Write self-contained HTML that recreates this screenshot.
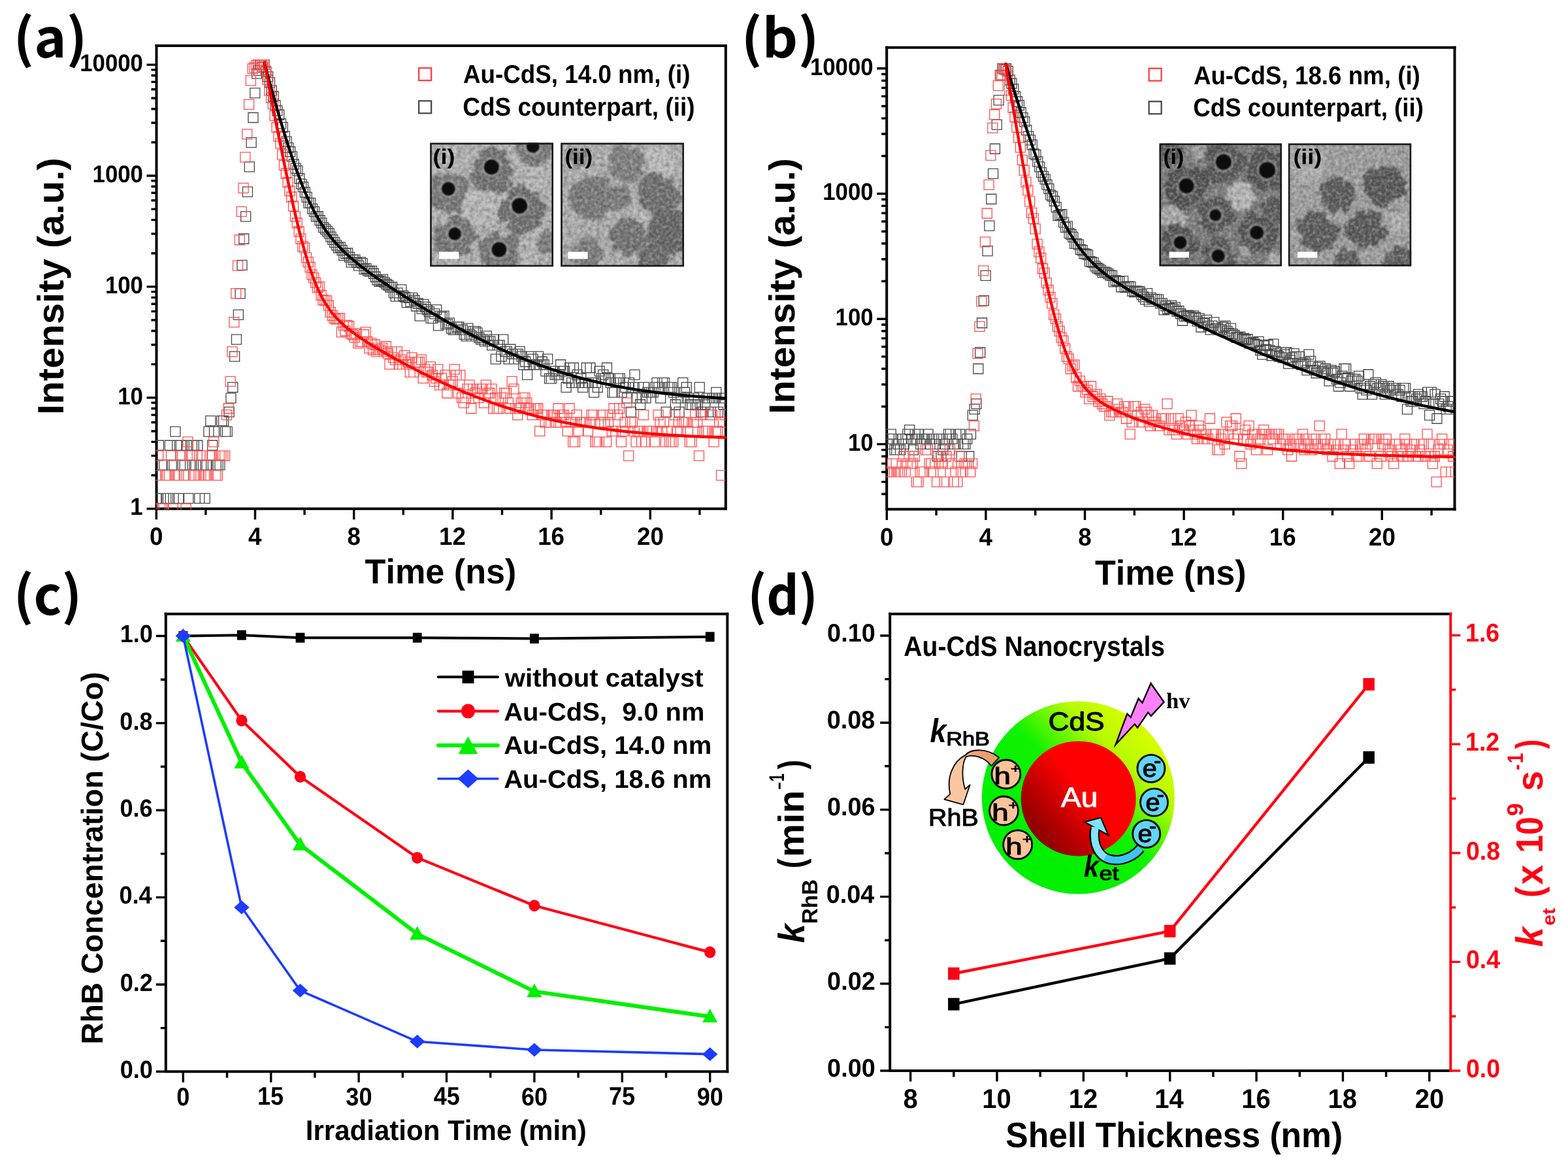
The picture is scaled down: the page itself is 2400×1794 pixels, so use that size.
<!DOCTYPE html>
<html><head><meta charset="utf-8"><title>Au-CdS figure</title>
<style>html,body{margin:0;padding:0;background:#fff;}svg{display:block;}#fig{width:2400px;height:1794px;}text{font-kerning:none;text-rendering:geometricPrecision;}</style></head><body>
<div id="fig"><svg width="2400" height="1794" viewBox="0 0 2400 1794">
<defs><clipPath id="clip139987752855296"><rect x="238.5" y="70" width="872.3" height="709.7"/></clipPath><clipPath id="clip139987901784384"><rect x="1356.2" y="72.7" width="870.3" height="707.9"/></clipPath><filter id="tex" x="0" y="0" width="1" height="1" filterUnits="objectBoundingBox"><feTurbulence type="fractalNoise" baseFrequency="0.16" numOctaves="2" seed="3" result="n"/><feColorMatrix in="n" type="matrix" values="0 0 0 0 0  0 0 0 0 0  0 0 0 0 0  1.4 0 0 0 -0.45" result="a"/><feComposite in="SourceGraphic" in2="a" operator="in"/></filter><filter id="texw" x="0" y="0" width="1" height="1" filterUnits="objectBoundingBox"><feTurbulence type="fractalNoise" baseFrequency="0.2" numOctaves="2" seed="11" result="n"/><feColorMatrix in="n" type="matrix" values="0 0 0 0 0  0 0 0 0 0  0 0 0 0 0  0 1.6 0 0 -0.62" result="a"/><feComposite in="SourceGraphic" in2="a" operator="in"/></filter><filter id="rough" x="-30%" y="-30%" width="160%" height="160%"><feTurbulence type="fractalNoise" baseFrequency="0.09" numOctaves="2" seed="5" result="n"/><feDisplacementMap in="SourceGraphic" in2="n" scale="16" xChannelSelector="R" yChannelSelector="G" result="d"/><feGaussianBlur in="d" stdDeviation="1.6"/></filter><filter id="soft" x="-30%" y="-30%" width="160%" height="160%"><feGaussianBlur stdDeviation="1.1"/></filter><filter id="soft3" x="-50%" y="-50%" width="200%" height="200%"><feGaussianBlur stdDeviation="3"/></filter><clipPath id="ia1"><rect x="658.2" y="218.6" width="188.8" height="189.6"/></clipPath><clipPath id="ia2"><rect x="858.2" y="218.6" width="188.8" height="189.6"/></clipPath><clipPath id="ib1"><rect x="1774.5" y="219.5" width="187.5" height="188"/></clipPath><clipPath id="ib2"><rect x="1971.8" y="219.5" width="188.4" height="188"/></clipPath><linearGradient id="gCdS" x1="0.25" y1="0.75" x2="0.9" y2="0.1"><stop offset="0" stop-color="#00f000"/><stop offset="0.42" stop-color="#10f200"/><stop offset="0.72" stop-color="#b8fa00"/><stop offset="1" stop-color="#e4ff00"/></linearGradient><linearGradient id="gAu" x1="0.9" y1="0.15" x2="0.05" y2="0.85"><stop offset="0" stop-color="#ff0000"/><stop offset="0.42" stop-color="#ff0000"/><stop offset="0.75" stop-color="#b00000"/><stop offset="1" stop-color="#800000"/></linearGradient><linearGradient id="gOr" x1="1" y1="0" x2="0" y2="0.6"><stop offset="0" stop-color="#e89a66"/><stop offset="0.45" stop-color="#eca67a"/><stop offset="0.6" stop-color="#f8c49e"/><stop offset="1" stop-color="#f9c7a2"/></linearGradient></defs>
<rect width="2400" height="1794" fill="#fff"/>
<g>
<path d="M239.5 70V778.7H1110.8" fill="none" stroke="#000" stroke-width="4" stroke-linecap="square"/>
<path d="M239.5 70H1110.8" fill="none" stroke="#000" stroke-width="4" stroke-linecap="square"/>
<path d="M1110.8 70V778.7" fill="none" stroke="#000" stroke-width="4" stroke-linecap="square"/>
<path d="M239.3 778.7V795.2M390.5 778.7V795.2M541.7 778.7V795.2M692.9 778.7V795.2M844.1 778.7V795.2M995.3 778.7V795.2M314.9 778.7V788.2M466.1 778.7V788.2M617.3 778.7V788.2M768.5 778.7V788.2M919.7 778.7V788.2M1070.9 778.7V788.2" stroke="#000" stroke-width="3.4"/>
<text transform="translate(229.1 834.44) scale(0.9600 1)" font-size="38.3" font-family="'Liberation Sans', Arial, sans-serif" font-weight="bold" fill="#000">0</text>
<text transform="translate(380.1 834.05) scale(0.9600 1)" font-size="38.3" font-family="'Liberation Sans', Arial, sans-serif" font-weight="bold" fill="#000">4</text>
<text transform="translate(531.46 834.44) scale(0.9600 1)" font-size="38.3" font-family="'Liberation Sans', Arial, sans-serif" font-weight="bold" fill="#000">8</text>
<text transform="translate(672.03 834.44) scale(0.9600 1)" font-size="38.3" font-family="'Liberation Sans', Arial, sans-serif" font-weight="bold" fill="#000">12</text>
<text transform="translate(823.16 834.44) scale(0.9600 1)" font-size="38.3" font-family="'Liberation Sans', Arial, sans-serif" font-weight="bold" fill="#000">16</text>
<text transform="translate(974.97 834.44) scale(0.9600 1)" font-size="38.3" font-family="'Liberation Sans', Arial, sans-serif" font-weight="bold" fill="#000">20</text>
<path d="M239.5 778.7H224.5M239.5 608.8H224.5M239.5 438.9H224.5M239.5 269H224.5M239.5 99.1H224.5M239.5 727.56H231.5M239.5 697.64H231.5M239.5 676.41H231.5M239.5 659.94H231.5M239.5 646.49H231.5M239.5 635.12H231.5M239.5 625.27H231.5M239.5 616.57H231.5M239.5 557.66H231.5M239.5 527.74H231.5M239.5 506.51H231.5M239.5 490.04H231.5M239.5 476.59H231.5M239.5 465.22H231.5M239.5 455.37H231.5M239.5 446.67H231.5M239.5 387.76H231.5M239.5 357.84H231.5M239.5 336.61H231.5M239.5 320.14H231.5M239.5 306.69H231.5M239.5 295.32H231.5M239.5 285.47H231.5M239.5 276.77H231.5M239.5 217.86H231.5M239.5 187.94H231.5M239.5 166.71H231.5M239.5 150.24H231.5M239.5 136.79H231.5M239.5 125.42H231.5M239.5 115.57H231.5M239.5 106.87H231.5" stroke="#000" stroke-width="3.4"/>
<text transform="translate(199.13 788.43) scale(0.9400 1)" font-size="37" font-family="'Liberation Sans', Arial, sans-serif" font-weight="bold" fill="#000">1</text>
<text transform="translate(180.24 618.54) scale(0.9400 1)" font-size="37" font-family="'Liberation Sans', Arial, sans-serif" font-weight="bold" fill="#000">10</text>
<text transform="translate(160.9 448.64) scale(0.9400 1)" font-size="37" font-family="'Liberation Sans', Arial, sans-serif" font-weight="bold" fill="#000">100</text>
<text transform="translate(141.55 278.74) scale(0.9400 1)" font-size="37" font-family="'Liberation Sans', Arial, sans-serif" font-weight="bold" fill="#000">1000</text>
<text transform="translate(122.21 108.84) scale(0.9400 1)" font-size="37" font-family="'Liberation Sans', Arial, sans-serif" font-weight="bold" fill="#000">10000</text>
<path d="M1357.2 72.7V779.6H2226.5" fill="none" stroke="#000" stroke-width="4" stroke-linecap="square"/>
<path d="M1357.2 72.7H2226.5" fill="none" stroke="#000" stroke-width="4" stroke-linecap="square"/>
<path d="M2226.5 72.7V779.6" fill="none" stroke="#000" stroke-width="4" stroke-linecap="square"/>
<path d="M1357.3 779.6V796.1M1508.9 779.6V796.1M1660.5 779.6V796.1M1812.1 779.6V796.1M1963.7 779.6V796.1M2115.3 779.6V796.1M1433.1 779.6V789.1M1584.7 779.6V789.1M1736.3 779.6V789.1M1887.9 779.6V789.1M2039.5 779.6V789.1M2191.1 779.6V789.1" stroke="#000" stroke-width="3.4"/>
<text transform="translate(1347.1 835.34) scale(0.9600 1)" font-size="38.3" font-family="'Liberation Sans', Arial, sans-serif" font-weight="bold" fill="#000">0</text>
<text transform="translate(1498.5 834.95) scale(0.9600 1)" font-size="38.3" font-family="'Liberation Sans', Arial, sans-serif" font-weight="bold" fill="#000">4</text>
<text transform="translate(1650.26 835.34) scale(0.9600 1)" font-size="38.3" font-family="'Liberation Sans', Arial, sans-serif" font-weight="bold" fill="#000">8</text>
<text transform="translate(1791.23 835.34) scale(0.9600 1)" font-size="38.3" font-family="'Liberation Sans', Arial, sans-serif" font-weight="bold" fill="#000">12</text>
<text transform="translate(1942.76 835.34) scale(0.9600 1)" font-size="38.3" font-family="'Liberation Sans', Arial, sans-serif" font-weight="bold" fill="#000">16</text>
<text transform="translate(2094.97 835.34) scale(0.9600 1)" font-size="38.3" font-family="'Liberation Sans', Arial, sans-serif" font-weight="bold" fill="#000">20</text>
<path d="M1357.2 679.9H1342.2M1357.2 488.2H1342.2M1357.2 296.5H1342.2M1357.2 104.8H1342.2M1357.2 756.19H1349.2M1357.2 737.61H1349.2M1357.2 722.43H1349.2M1357.2 709.59H1349.2M1357.2 698.48H1349.2M1357.2 688.67H1349.2M1357.2 622.19H1349.2M1357.2 588.44H1349.2M1357.2 564.49H1349.2M1357.2 545.91H1349.2M1357.2 530.73H1349.2M1357.2 517.89H1349.2M1357.2 506.78H1349.2M1357.2 496.97H1349.2M1357.2 430.49H1349.2M1357.2 396.74H1349.2M1357.2 372.79H1349.2M1357.2 354.21H1349.2M1357.2 339.03H1349.2M1357.2 326.19H1349.2M1357.2 315.08H1349.2M1357.2 305.27H1349.2M1357.2 238.79H1349.2M1357.2 205.04H1349.2M1357.2 181.09H1349.2M1357.2 162.51H1349.2M1357.2 147.33H1349.2M1357.2 134.49H1349.2M1357.2 123.38H1349.2M1357.2 113.57H1349.2" stroke="#000" stroke-width="3.4"/>
<text transform="translate(1297.94 689.64) scale(0.9400 1)" font-size="37" font-family="'Liberation Sans', Arial, sans-serif" font-weight="bold" fill="#000">10</text>
<text transform="translate(1278.6 497.94) scale(0.9400 1)" font-size="37" font-family="'Liberation Sans', Arial, sans-serif" font-weight="bold" fill="#000">100</text>
<text transform="translate(1259.25 306.24) scale(0.9400 1)" font-size="37" font-family="'Liberation Sans', Arial, sans-serif" font-weight="bold" fill="#000">1000</text>
<text transform="translate(1239.91 114.54) scale(0.9400 1)" font-size="37" font-family="'Liberation Sans', Arial, sans-serif" font-weight="bold" fill="#000">10000</text>
<text transform="translate(558.61 893.28) scale(0.9820 1)" font-size="53.1" font-family="'Liberation Sans', Arial, sans-serif" font-weight="bold" fill="#000">Time (ns)</text>
<text transform="translate(1676.01 894.69) scale(0.9732 1)" font-size="53.53" font-family="'Liberation Sans', Arial, sans-serif" font-weight="bold" fill="#000">Time (ns)</text>
<text transform="translate(97.43 634.88) rotate(-90) scale(1.0326 1)" font-size="56.22" font-family="'Liberation Sans', Arial, sans-serif" font-weight="bold" fill="#000">Intensity (a.u.)</text>
<text transform="translate(1215.71 633.67) rotate(-90) scale(1.0437 1)" font-size="55.36" font-family="'Liberation Sans', Arial, sans-serif" font-weight="bold" fill="#000">Intensity (a.u.)</text>
<path d="M253.8 939.7V1640.3H1113.3" fill="none" stroke="#000" stroke-width="4" stroke-linecap="square"/>
<path d="M253.8 939.7H1113.3" fill="none" stroke="#000" stroke-width="4" stroke-linecap="square"/>
<path d="M1113.3 939.7V1640.3" fill="none" stroke="#000" stroke-width="4" stroke-linecap="square"/>
<path d="M280.3 1640.3V1656.8M414.7 1640.3V1656.8M549.1 1640.3V1656.8M683.5 1640.3V1656.8M817.9 1640.3V1656.8M952.3 1640.3V1656.8M1086.7 1640.3V1656.8M347.5 1640.3V1649.8M481.9 1640.3V1649.8M616.3 1640.3V1649.8M750.7 1640.3V1649.8M885.1 1640.3V1649.8M1019.5 1640.3V1649.8" stroke="#000" stroke-width="3.4"/>
<text transform="translate(270.29 1691.89) scale(0.9300 1)" font-size="38.8" font-family="'Liberation Sans', Arial, sans-serif" font-weight="bold" fill="#000">0</text>
<text transform="translate(394 1691.49) scale(0.9300 1)" font-size="38.8" font-family="'Liberation Sans', Arial, sans-serif" font-weight="bold" fill="#000">15</text>
<text transform="translate(529.36 1691.89) scale(0.9300 1)" font-size="38.8" font-family="'Liberation Sans', Arial, sans-serif" font-weight="bold" fill="#000">30</text>
<text transform="translate(663.66 1691.49) scale(0.9300 1)" font-size="38.8" font-family="'Liberation Sans', Arial, sans-serif" font-weight="bold" fill="#000">45</text>
<text transform="translate(797.91 1691.89) scale(0.9300 1)" font-size="38.8" font-family="'Liberation Sans', Arial, sans-serif" font-weight="bold" fill="#000">60</text>
<text transform="translate(931.96 1691.49) scale(0.9300 1)" font-size="38.8" font-family="'Liberation Sans', Arial, sans-serif" font-weight="bold" fill="#000">75</text>
<text transform="translate(1066.75 1691.89) scale(0.9300 1)" font-size="38.8" font-family="'Liberation Sans', Arial, sans-serif" font-weight="bold" fill="#000">90</text>
<path d="M253.8 1640.3H238.8M253.8 1506.94H238.8M253.8 1373.58H238.8M253.8 1240.22H238.8M253.8 1106.86H238.8M253.8 973.5H238.8M253.8 1573.62H245.8M253.8 1440.26H245.8M253.8 1306.9H245.8M253.8 1173.54H245.8M253.8 1040.18H245.8" stroke="#000" stroke-width="3.4"/>
<text transform="translate(183.7 1650.01) scale(0.9550 1)" font-size="37.8" font-family="'Liberation Sans', Arial, sans-serif" font-weight="bold" fill="#000">0.0</text>
<text transform="translate(183.66 1516.65) scale(0.9550 1)" font-size="37.8" font-family="'Liberation Sans', Arial, sans-serif" font-weight="bold" fill="#000">0.2</text>
<text transform="translate(182.41 1383.29) scale(0.9550 1)" font-size="37.8" font-family="'Liberation Sans', Arial, sans-serif" font-weight="bold" fill="#000">0.4</text>
<text transform="translate(183.52 1249.93) scale(0.9550 1)" font-size="37.8" font-family="'Liberation Sans', Arial, sans-serif" font-weight="bold" fill="#000">0.6</text>
<text transform="translate(183.33 1116.57) scale(0.9550 1)" font-size="37.8" font-family="'Liberation Sans', Arial, sans-serif" font-weight="bold" fill="#000">0.8</text>
<text transform="translate(183.7 983.21) scale(0.9550 1)" font-size="37.8" font-family="'Liberation Sans', Arial, sans-serif" font-weight="bold" fill="#000">1.0</text>
<text transform="translate(467.79 1744.51) scale(0.9707 1)" font-size="43.34" font-family="'Liberation Sans', Arial, sans-serif" font-weight="bold" fill="#000">Irradiation Time (min)</text>
<text transform="translate(156.58 1598.48) rotate(-90) scale(0.9930 1)" font-size="46.35" font-family="'Liberation Sans', Arial, sans-serif" font-weight="bold" fill="#000">RhB Concentration (C/Co)</text>
<path d="M1362.2 939.7V1639H2220.3" fill="none" stroke="#000" stroke-width="4" stroke-linecap="square"/>
<path d="M1362.2 939.7H2220.3" fill="none" stroke="#000" stroke-width="4" stroke-linecap="square"/>
<path d="M2220.3 939.7V1639" fill="none" stroke="#ff0014" stroke-width="4" stroke-linecap="square"/>
<path d="M1393.64 1639V1655.5M1526 1639V1655.5M1658.36 1639V1655.5M1790.72 1639V1655.5M1923.08 1639V1655.5M2055.44 1639V1655.5M2187.8 1639V1655.5M1459.82 1639V1648.5M1592.18 1639V1648.5M1724.54 1639V1648.5M1856.9 1639V1648.5M1989.26 1639V1648.5M2121.62 1639V1648.5" stroke="#000" stroke-width="3.4"/>
<text transform="translate(1382.48 1696.18) scale(0.9650 1)" font-size="41.5" font-family="'Liberation Sans', Arial, sans-serif" font-weight="bold" fill="#000">8</text>
<text transform="translate(1503.29 1696.18) scale(0.9650 1)" font-size="41.5" font-family="'Liberation Sans', Arial, sans-serif" font-weight="bold" fill="#000">10</text>
<text transform="translate(1635.63 1696.18) scale(0.9650 1)" font-size="41.5" font-family="'Liberation Sans', Arial, sans-serif" font-weight="bold" fill="#000">12</text>
<text transform="translate(1767.29 1695.75) scale(0.9650 1)" font-size="41.5" font-family="'Liberation Sans', Arial, sans-serif" font-weight="bold" fill="#000">14</text>
<text transform="translate(1900.27 1696.18) scale(0.9650 1)" font-size="41.5" font-family="'Liberation Sans', Arial, sans-serif" font-weight="bold" fill="#000">16</text>
<text transform="translate(2032.52 1696.18) scale(0.9650 1)" font-size="41.5" font-family="'Liberation Sans', Arial, sans-serif" font-weight="bold" fill="#000">18</text>
<text transform="translate(2165.65 1696.18) scale(0.9650 1)" font-size="41.5" font-family="'Liberation Sans', Arial, sans-serif" font-weight="bold" fill="#000">20</text>
<path d="M1362.2 1639H1347.2M1362.2 1505.8H1347.2M1362.2 1372.6H1347.2M1362.2 1239.4H1347.2M1362.2 1106.2H1347.2M1362.2 973H1347.2M1362.2 1572.4H1354.2M1362.2 1439.2H1354.2M1362.2 1306H1354.2M1362.2 1172.8H1354.2M1362.2 1039.6H1354.2" stroke="#000" stroke-width="3.4"/>
<text transform="translate(1266.12 1648.06) scale(0.9750 1)" font-size="38.8" font-family="'Liberation Sans', Arial, sans-serif" font-weight="bold" fill="#000">0.00</text>
<text transform="translate(1266.09 1514.86) scale(0.9750 1)" font-size="38.8" font-family="'Liberation Sans', Arial, sans-serif" font-weight="bold" fill="#000">0.02</text>
<text transform="translate(1264.78 1381.66) scale(0.9750 1)" font-size="38.8" font-family="'Liberation Sans', Arial, sans-serif" font-weight="bold" fill="#000">0.04</text>
<text transform="translate(1265.94 1248.46) scale(0.9750 1)" font-size="38.8" font-family="'Liberation Sans', Arial, sans-serif" font-weight="bold" fill="#000">0.06</text>
<text transform="translate(1265.74 1115.26) scale(0.9750 1)" font-size="38.8" font-family="'Liberation Sans', Arial, sans-serif" font-weight="bold" fill="#000">0.08</text>
<text transform="translate(1266.12 982.06) scale(0.9750 1)" font-size="38.8" font-family="'Liberation Sans', Arial, sans-serif" font-weight="bold" fill="#000">0.10</text>
<path d="M2220.3 1639H2235.3M2220.3 1472.36H2235.3M2220.3 1305.72H2235.3M2220.3 1139.08H2235.3M2220.3 972.44H2235.3M2220.3 1555.68H2228.3M2220.3 1389.04H2228.3M2220.3 1222.4H2228.3M2220.3 1055.76H2228.3" stroke="#ff0014" stroke-width="3.4"/>
<text transform="translate(2243.92 1649) scale(0.9500 1)" font-size="39.5" font-family="'Liberation Sans', Arial, sans-serif" font-weight="bold" fill="#ff0014">0.0</text>
<text transform="translate(2243.92 1482.36) scale(0.9500 1)" font-size="39.5" font-family="'Liberation Sans', Arial, sans-serif" font-weight="bold" fill="#ff0014">0.4</text>
<text transform="translate(2243.92 1315.72) scale(0.9500 1)" font-size="39.5" font-family="'Liberation Sans', Arial, sans-serif" font-weight="bold" fill="#ff0014">0.8</text>
<text transform="translate(2243.04 1149.27) scale(0.9500 1)" font-size="39.5" font-family="'Liberation Sans', Arial, sans-serif" font-weight="bold" fill="#ff0014">1.2</text>
<text transform="translate(2243.04 982.44) scale(0.9500 1)" font-size="39.5" font-family="'Liberation Sans', Arial, sans-serif" font-weight="bold" fill="#ff0014">1.6</text>
<text transform="translate(1539.31 1755.68) scale(0.9538 1)" font-size="54.07" font-family="'Liberation Sans', Arial, sans-serif" font-weight="bold" fill="#000">Shell Thickness (nm)</text>
<text transform="translate(20.58 87.79) scale(1.0249 1)" font-size="81.74" font-family="'Noto Sans CJK JP', 'Liberation Sans', sans-serif" font-weight="bold" fill="#000">(a)</text>
<text transform="translate(1134.47 87.79) scale(1.0404 1)" font-size="81.74" font-family="'Noto Sans CJK JP', 'Liberation Sans', sans-serif" font-weight="bold" fill="#000">(b)</text>
<text transform="translate(20.78 941.39) scale(1.0018 1)" font-size="81.26" font-family="'Noto Sans CJK JP', 'Liberation Sans', sans-serif" font-weight="bold" fill="#000">(c)</text>
<text transform="translate(1144.16 941.39) scale(0.9465 1)" font-size="81.26" font-family="'Noto Sans CJK JP', 'Liberation Sans', sans-serif" font-weight="bold" fill="#000">(d)</text>
<g clip-path="url(#clip139987752855296)"><path d="M232.56 755.33h15v15h-15zM235.39 674.26h15v15h-15zM238.23 755.33h15v15h-15zM241.06 704.18h15v15h-15zM243.9 704.18h15v15h-15zM246.73 755.33h15v15h-15zM249.57 755.33h15v15h-15zM252.4 674.26h15v15h-15zM255.24 704.18h15v15h-15zM258.07 755.33h15v15h-15zM260.91 653.04h15v15h-15zM263.74 674.26h15v15h-15zM266.58 755.33h15v15h-15zM269.41 674.26h15v15h-15zM272.25 704.18h15v15h-15zM275.08 704.18h15v15h-15zM277.92 674.26h15v15h-15zM280.75 755.33h15v15h-15zM283.59 704.18h15v15h-15zM286.42 674.26h15v15h-15zM289.26 674.26h15v15h-15zM292.09 704.18h15v15h-15zM294.93 674.26h15v15h-15zM297.76 755.33h15v15h-15zM300.6 704.18h15v15h-15zM303.43 704.18h15v15h-15zM306.27 755.33h15v15h-15zM309.1 704.18h15v15h-15zM311.94 653.04h15v15h-15zM314.77 636.57h15v15h-15zM317.61 674.26h15v15h-15zM320.44 653.04h15v15h-15zM323.28 704.18h15v15h-15zM326.11 704.18h15v15h-15zM328.95 704.18h15v15h-15zM331.78 636.57h15v15h-15zM334.62 636.57h15v15h-15zM337.45 653.04h15v15h-15zM340.29 653.04h15v15h-15zM343.12 623.12h15v15h-15zM345.96 601.89h15v15h-15zM348.79 585.43h15v15h-15zM351.63 538.07h15v15h-15zM354.46 512.14h15v15h-15zM357.3 474.45h15v15h-15zM360.13 441.85h15v15h-15zM362.97 398.47h15v15h-15zM365.8 358.02h15v15h-15zM368.64 323.78h15v15h-15zM371.47 286.2h15v15h-15zM374.31 247.85h15v15h-15zM377.14 210.63h15v15h-15zM379.98 172.52h15v15h-15zM382.81 134.95h15v15h-15zM385.65 105.11h15v15h-15zM388.48 100.28h15v15h-15zM391.32 91.6h15v15h-15zM394.15 95.24h15v15h-15zM396.99 91.6h15v15h-15zM399.82 102.22h15v15h-15zM402.66 109.87h15v15h-15zM405.49 118.93h15v15h-15zM408.33 131.07h15v15h-15zM411.16 140h15v15h-15zM414 153.9h15v15h-15zM416.83 161.95h15v15h-15zM419.67 168.24h15v15h-15zM422.5 181.94h15v15h-15zM425.34 187.34h15v15h-15zM428.17 201.18h15v15h-15zM431.01 209.18h15v15h-15zM433.84 218.53h15v15h-15zM436.68 224.76h15v15h-15zM439.51 232.12h15v15h-15zM442.35 243.98h15v15h-15zM445.18 250.05h15v15h-15zM448.02 253.97h15v15h-15zM450.85 265.76h15v15h-15zM453.69 274.21h15v15h-15zM456.52 278.59h15v15h-15zM459.36 286.74h15v15h-15zM462.19 294.36h15v15h-15zM465.03 303.15h15v15h-15zM467.86 303.28h15v15h-15zM470.7 312.1h15v15h-15zM473.53 316.33h15v15h-15zM476.37 323.97h15v15h-15zM479.2 323.77h15v15h-15zM482.04 329.74h15v15h-15zM484.87 333.97h15v15h-15zM487.71 340.62h15v15h-15zM490.54 343.34h15v15h-15zM493.38 346.46h15v15h-15zM496.21 349.71h15v15h-15zM499.05 355.04h15v15h-15zM501.88 359.39h15v15h-15zM504.72 363.65h15v15h-15zM507.55 367.78h15v15h-15zM510.39 371.75h15v15h-15zM513.22 370.94h15v15h-15zM516.06 375.51h15v15h-15zM518.89 383.67h15v15h-15zM521.73 380.85h15v15h-15zM524.56 379.93h15v15h-15zM527.4 386.1h15v15h-15zM530.23 393.93h15v15h-15zM533.07 390.7h15v15h-15zM535.9 390.18h15v15h-15zM538.74 394.49h15v15h-15zM541.57 399.06h15v15h-15zM544.41 393.93h15v15h-15zM547.24 395.6h15v15h-15zM550.08 404.58h15v15h-15zM552.91 403.31h15v15h-15zM555.75 407.17h15v15h-15zM558.58 407.83h15v15h-15zM561.42 407.17h15v15h-15zM564.25 411.23h15v15h-15zM567.09 416.27h15v15h-15zM569.92 420.88h15v15h-15zM572.76 423.3h15v15h-15zM575.59 422.49h15v15h-15zM578.43 420.09h15v15h-15zM581.26 424.96h15v15h-15zM584.1 427.52h15v15h-15zM586.93 429.28h15v15h-15zM589.77 431.99h15v15h-15zM592.6 431.99h15v15h-15zM595.44 440.8h15v15h-15zM598.27 446.19h15v15h-15zM601.11 440.8h15v15h-15zM603.94 446.19h15v15h-15zM606.78 435.78h15v15h-15zM609.61 445.08h15v15h-15zM612.45 447.31h15v15h-15zM615.28 455.72h15v15h-15zM618.12 448.46h15v15h-15zM620.95 454.46h15v15h-15zM623.79 448.46h15v15h-15zM626.62 452h15v15h-15zM629.46 460.99h15v15h-15zM632.29 457h15v15h-15zM635.13 476.11h15v15h-15zM637.96 465.21h15v15h-15zM640.8 458.31h15v15h-15zM643.63 462.37h15v15h-15zM646.47 466.67h15v15h-15zM649.3 469.68h15v15h-15zM652.14 479.54h15v15h-15zM654.97 479.54h15v15h-15zM657.81 472.83h15v15h-15zM660.64 466.67h15v15h-15zM663.48 490.91h15v15h-15zM666.31 476.11h15v15h-15zM669.15 477.8h15v15h-15zM671.98 476.11h15v15h-15zM674.82 488.89h15v15h-15zM677.65 488.89h15v15h-15zM680.49 486.92h15v15h-15zM683.32 495.13h15v15h-15zM686.16 497.33h15v15h-15zM688.99 497.33h15v15h-15zM691.83 492.99h15v15h-15zM694.66 492.99h15v15h-15zM697.5 497.33h15v15h-15zM700.33 497.33h15v15h-15zM703.17 504.36h15v15h-15zM706 506.87h15v15h-15zM708.84 495.13h15v15h-15zM711.67 504.36h15v15h-15zM714.51 506.87h15v15h-15zM717.34 499.6h15v15h-15zM720.18 499.6h15v15h-15zM723.01 501.95h15v15h-15zM725.85 509.46h15v15h-15zM728.68 512.14h15v15h-15zM731.52 512.14h15v15h-15zM734.35 514.92h15v15h-15zM737.19 506.87h15v15h-15zM740.02 514.92h15v15h-15zM742.86 514.92h15v15h-15zM745.69 520.83h15v15h-15zM748.53 512.14h15v15h-15zM751.36 542.06h15v15h-15zM754.2 520.83h15v15h-15zM757.03 520.83h15v15h-15zM759.87 538.07h15v15h-15zM762.7 512.14h15v15h-15zM765.54 530.68h15v15h-15zM768.37 530.68h15v15h-15zM771.21 542.06h15v15h-15zM774.04 527.25h15v15h-15zM776.88 534.28h15v15h-15zM779.71 542.06h15v15h-15zM782.55 534.28h15v15h-15zM785.38 534.28h15v15h-15zM788.22 530.68h15v15h-15zM791.05 538.07h15v15h-15zM793.89 550.75h15v15h-15zM796.72 546.27h15v15h-15zM799.56 566.07h15v15h-15zM802.39 550.75h15v15h-15zM805.23 538.07h15v15h-15zM808.06 542.06h15v15h-15zM810.9 550.75h15v15h-15zM813.73 550.75h15v15h-15zM816.57 538.07h15v15h-15zM819.4 550.75h15v15h-15zM822.24 546.27h15v15h-15zM825.07 550.75h15v15h-15zM827.91 560.6h15v15h-15zM830.74 542.06h15v15h-15zM833.58 571.97h15v15h-15zM836.41 571.97h15v15h-15zM839.25 560.6h15v15h-15zM842.08 566.07h15v15h-15zM844.92 566.07h15v15h-15zM847.75 566.07h15v15h-15zM850.59 550.75h15v15h-15zM853.42 560.6h15v15h-15zM856.26 560.6h15v15h-15zM859.09 585.43h15v15h-15zM861.93 571.97h15v15h-15zM864.76 555.51h15v15h-15zM867.6 578.4h15v15h-15zM870.43 555.51h15v15h-15zM873.27 578.4h15v15h-15zM876.1 566.07h15v15h-15zM878.94 578.4h15v15h-15zM881.77 571.97h15v15h-15zM884.61 585.43h15v15h-15zM887.44 578.4h15v15h-15zM890.28 555.51h15v15h-15zM893.11 578.4h15v15h-15zM895.95 555.51h15v15h-15zM898.78 578.4h15v15h-15zM901.62 593.2h15v15h-15zM904.45 578.4h15v15h-15zM907.29 585.43h15v15h-15zM910.12 560.6h15v15h-15zM912.96 571.97h15v15h-15zM915.79 566.07h15v15h-15zM918.63 571.97h15v15h-15zM921.46 555.51h15v15h-15zM924.3 571.97h15v15h-15zM927.13 578.4h15v15h-15zM929.97 593.2h15v15h-15zM932.8 593.2h15v15h-15zM935.64 578.4h15v15h-15zM938.47 571.97h15v15h-15zM941.31 571.97h15v15h-15zM944.14 593.2h15v15h-15zM946.98 578.4h15v15h-15zM949.81 585.43h15v15h-15zM952.65 601.89h15v15h-15zM955.48 578.4h15v15h-15zM958.32 623.12h15v15h-15zM961.15 585.43h15v15h-15zM963.99 566.07h15v15h-15zM966.82 601.89h15v15h-15zM969.66 585.43h15v15h-15zM972.49 611.75h15v15h-15zM975.33 601.89h15v15h-15zM978.16 585.43h15v15h-15zM981 601.89h15v15h-15zM983.83 593.2h15v15h-15zM986.67 593.2h15v15h-15zM989.5 593.2h15v15h-15zM992.34 593.2h15v15h-15zM995.17 585.43h15v15h-15zM998.01 578.4h15v15h-15zM1000.84 585.43h15v15h-15zM1003.68 601.89h15v15h-15zM1006.51 578.4h15v15h-15zM1009.35 578.4h15v15h-15zM1012.18 623.12h15v15h-15zM1015.02 585.43h15v15h-15zM1017.85 585.43h15v15h-15zM1020.69 585.43h15v15h-15zM1023.52 593.2h15v15h-15zM1026.36 611.75h15v15h-15zM1029.19 601.89h15v15h-15zM1032.03 623.12h15v15h-15zM1034.86 601.89h15v15h-15zM1037.7 578.4h15v15h-15zM1040.53 593.2h15v15h-15zM1043.37 585.43h15v15h-15zM1046.2 601.89h15v15h-15zM1049.04 611.75h15v15h-15zM1051.87 611.75h15v15h-15zM1054.71 601.89h15v15h-15zM1057.54 611.75h15v15h-15zM1060.38 611.75h15v15h-15zM1063.21 585.43h15v15h-15zM1066.05 623.12h15v15h-15zM1068.88 623.12h15v15h-15zM1071.72 611.75h15v15h-15zM1074.55 601.89h15v15h-15zM1077.39 601.89h15v15h-15zM1080.22 623.12h15v15h-15zM1083.06 601.89h15v15h-15zM1085.89 601.89h15v15h-15zM1088.73 593.2h15v15h-15zM1091.56 623.12h15v15h-15zM1094.4 601.89h15v15h-15zM1097.23 601.89h15v15h-15zM1100.07 611.75h15v15h-15zM1102.9 601.89h15v15h-15z" fill="none" stroke="#4a4a4a" stroke-width="1.3" opacity="1"/></g>
<g clip-path="url(#clip139987752855296)"><path d="M231.8 720.06h15v15h-15zM234.64 690.14h15v15h-15zM237.47 771.2h15v15h-15zM240.31 771.2h15v15h-15zM243.14 771.2h15v15h-15zM245.98 720.06h15v15h-15zM248.81 720.06h15v15h-15zM251.64 720.06h15v15h-15zM254.48 690.14h15v15h-15zM257.31 771.2h15v15h-15zM260.15 720.06h15v15h-15zM262.99 720.06h15v15h-15zM265.82 720.06h15v15h-15zM268.65 690.14h15v15h-15zM271.49 690.14h15v15h-15zM274.32 720.06h15v15h-15zM277.16 771.2h15v15h-15zM280 668.91h15v15h-15zM282.83 690.14h15v15h-15zM285.66 690.14h15v15h-15zM288.5 720.06h15v15h-15zM291.33 720.06h15v15h-15zM294.17 690.14h15v15h-15zM297 720.06h15v15h-15zM299.84 720.06h15v15h-15zM302.67 690.14h15v15h-15zM305.51 720.06h15v15h-15zM308.34 720.06h15v15h-15zM311.18 720.06h15v15h-15zM314.01 690.14h15v15h-15zM316.85 690.14h15v15h-15zM319.69 668.91h15v15h-15zM322.52 720.06h15v15h-15zM325.36 720.06h15v15h-15zM328.19 690.14h15v15h-15zM331.03 690.14h15v15h-15zM333.86 690.14h15v15h-15zM336.7 690.14h15v15h-15zM339.53 627.62h15v15h-15zM342.37 617.77h15v15h-15zM345.2 576.47h15v15h-15zM348.04 530.8h15v15h-15zM350.87 485.56h15v15h-15zM353.71 441.68h15v15h-15zM356.54 399.06h15v15h-15zM359.38 359.77h15v15h-15zM362.21 316.31h15v15h-15zM365.05 280.3h15v15h-15zM367.88 233.19h15v15h-15zM370.72 197.95h15v15h-15zM373.55 152.43h15v15h-15zM376.39 115.92h15v15h-15zM379.22 97.71h15v15h-15zM382.06 95.9h15v15h-15zM384.89 92.42h15v15h-15zM387.73 91.6h15v15h-15zM390.56 92.07h15v15h-15zM393.4 91.75h15v15h-15zM396.23 91.6h15v15h-15zM399.07 100.8h15v15h-15zM401.9 114.27h15v15h-15zM404.74 131.04h15v15h-15zM407.57 142.01h15v15h-15zM410.41 151.85h15v15h-15zM413.24 169.51h15v15h-15zM416.08 187.49h15v15h-15zM418.91 201.45h15v15h-15zM421.75 211.93h15v15h-15zM424.58 229.17h15v15h-15zM427.42 245.65h15v15h-15zM430.25 258h15v15h-15zM433.09 271.57h15v15h-15zM435.92 284.76h15v15h-15zM438.76 293.98h15v15h-15zM441.59 308.01h15v15h-15zM444.43 323.91h15v15h-15zM447.26 333.75h15v15h-15zM450.1 346.73h15v15h-15zM452.93 358.11h15v15h-15zM455.77 369.62h15v15h-15zM458.6 371.89h15v15h-15zM461.44 386.81h15v15h-15zM464.27 393.56h15v15h-15zM467.11 401.48h15v15h-15zM469.94 413.19h15v15h-15zM472.78 417.95h15v15h-15zM475.61 425.04h15v15h-15zM478.45 432.89h15v15h-15zM481.28 431.4h15v15h-15zM484.12 444.26h15v15h-15zM486.95 451.65h15v15h-15zM489.79 452.63h15v15h-15zM492.62 452.63h15v15h-15zM495.46 459.86h15v15h-15zM498.29 470.33h15v15h-15zM501.13 475.51h15v15h-15zM503.96 479.65h15v15h-15zM506.8 481.08h15v15h-15zM509.63 479.65h15v15h-15zM512.47 479.65h15v15h-15zM515.3 500.88h15v15h-15zM518.14 490.32h15v15h-15zM520.97 499.01h15v15h-15zM523.81 490.32h15v15h-15zM526.64 491.98h15v15h-15zM529.48 502.79h15v15h-15zM532.31 504.76h15v15h-15zM535.15 508.86h15v15h-15zM537.98 502.79h15v15h-15zM540.82 517.82h15v15h-15zM543.65 515.48h15v15h-15zM546.49 515.48h15v15h-15zM549.32 504.76h15v15h-15zM552.16 500.88h15v15h-15zM554.99 515.48h15v15h-15zM557.83 525.33h15v15h-15zM560.66 517.82h15v15h-15zM563.5 528.01h15v15h-15zM566.33 520.24h15v15h-15zM569.17 530.8h15v15h-15zM572 528.01h15v15h-15zM574.84 528.01h15v15h-15zM577.67 525.33h15v15h-15zM580.51 530.8h15v15h-15zM583.34 522.74h15v15h-15zM586.17 533.69h15v15h-15zM589.01 550.16h15v15h-15zM591.84 530.8h15v15h-15zM594.68 539.84h15v15h-15zM597.51 543.12h15v15h-15zM600.35 530.8h15v15h-15zM603.18 550.16h15v15h-15zM606.02 543.12h15v15h-15zM608.85 550.16h15v15h-15zM611.69 536.7h15v15h-15zM614.52 550.16h15v15h-15zM617.36 546.55h15v15h-15zM620.19 562.15h15v15h-15zM623.03 539.84h15v15h-15zM625.86 562.15h15v15h-15zM628.7 546.55h15v15h-15zM631.53 546.55h15v15h-15zM634.37 546.55h15v15h-15zM637.2 543.12h15v15h-15zM640.04 571.38h15v15h-15zM642.87 557.93h15v15h-15zM645.71 562.15h15v15h-15zM648.54 562.15h15v15h-15zM651.38 553.94h15v15h-15zM654.21 566.62h15v15h-15zM657.05 576.47h15v15h-15zM659.88 571.38h15v15h-15zM662.72 557.93h15v15h-15zM665.55 581.94h15v15h-15zM668.39 571.38h15v15h-15zM671.22 581.94h15v15h-15zM674.06 566.62h15v15h-15zM676.89 594.27h15v15h-15zM679.73 581.94h15v15h-15zM682.56 581.94h15v15h-15zM685.4 576.47h15v15h-15zM688.23 557.93h15v15h-15zM691.07 566.62h15v15h-15zM693.9 594.27h15v15h-15zM696.74 566.62h15v15h-15zM699.57 601.3h15v15h-15zM702.41 609.07h15v15h-15zM705.24 601.3h15v15h-15zM708.08 587.85h15v15h-15zM710.91 581.94h15v15h-15zM713.75 617.77h15v15h-15zM716.58 587.85h15v15h-15zM719.42 594.27h15v15h-15zM722.25 587.85h15v15h-15zM725.09 601.3h15v15h-15zM727.92 587.85h15v15h-15zM730.76 587.85h15v15h-15zM733.59 609.07h15v15h-15zM736.43 581.94h15v15h-15zM739.26 594.27h15v15h-15zM742.1 594.27h15v15h-15zM744.93 587.85h15v15h-15zM747.77 617.77h15v15h-15zM750.6 601.3h15v15h-15zM753.44 617.77h15v15h-15zM756.27 617.77h15v15h-15zM759.11 601.3h15v15h-15zM761.94 601.3h15v15h-15zM764.78 594.27h15v15h-15zM767.61 594.27h15v15h-15zM770.45 609.07h15v15h-15zM773.28 617.77h15v15h-15zM776.12 576.47h15v15h-15zM778.95 587.85h15v15h-15zM781.79 617.77h15v15h-15zM784.62 627.62h15v15h-15zM787.46 617.77h15v15h-15zM790.29 609.07h15v15h-15zM793.13 601.3h15v15h-15zM795.96 601.3h15v15h-15zM798.8 609.07h15v15h-15zM801.63 617.77h15v15h-15zM804.47 617.77h15v15h-15zM807.3 627.62h15v15h-15zM810.14 617.77h15v15h-15zM812.97 617.77h15v15h-15zM815.81 617.77h15v15h-15zM818.64 652.44h15v15h-15zM821.48 627.62h15v15h-15zM824.31 627.62h15v15h-15zM827.15 638.99h15v15h-15zM829.98 627.62h15v15h-15zM832.82 638.99h15v15h-15zM835.65 638.99h15v15h-15zM838.49 627.62h15v15h-15zM841.32 627.62h15v15h-15zM844.16 638.99h15v15h-15zM846.99 617.77h15v15h-15zM849.83 627.62h15v15h-15zM852.66 627.62h15v15h-15zM855.5 627.62h15v15h-15zM858.33 638.99h15v15h-15zM861.17 652.44h15v15h-15zM864 617.77h15v15h-15zM866.84 638.99h15v15h-15zM869.67 668.91h15v15h-15zM872.51 668.91h15v15h-15zM875.34 627.62h15v15h-15zM878.18 652.44h15v15h-15zM881.01 638.99h15v15h-15zM883.85 638.99h15v15h-15zM886.68 638.99h15v15h-15zM889.52 638.99h15v15h-15zM892.35 652.44h15v15h-15zM895.19 638.99h15v15h-15zM898.02 627.62h15v15h-15zM900.86 627.62h15v15h-15zM903.69 668.91h15v15h-15zM906.53 668.91h15v15h-15zM909.36 668.91h15v15h-15zM912.2 638.99h15v15h-15zM915.03 627.62h15v15h-15zM917.87 638.99h15v15h-15zM920.7 668.91h15v15h-15zM923.54 638.99h15v15h-15zM926.37 627.62h15v15h-15zM929.21 652.44h15v15h-15zM932.04 617.77h15v15h-15zM934.88 652.44h15v15h-15zM937.71 627.62h15v15h-15zM940.55 617.77h15v15h-15zM943.38 668.91h15v15h-15zM946.22 652.44h15v15h-15zM949.05 638.99h15v15h-15zM951.89 609.07h15v15h-15zM954.72 690.14h15v15h-15zM957.56 638.99h15v15h-15zM960.39 638.99h15v15h-15zM963.23 652.44h15v15h-15zM966.06 668.91h15v15h-15zM968.9 652.44h15v15h-15zM971.73 652.44h15v15h-15zM974.57 668.91h15v15h-15zM977.4 627.62h15v15h-15zM980.24 668.91h15v15h-15zM983.07 652.44h15v15h-15zM985.91 652.44h15v15h-15zM988.74 652.44h15v15h-15zM991.58 652.44h15v15h-15zM994.41 668.91h15v15h-15zM997.25 652.44h15v15h-15zM1000.08 627.62h15v15h-15zM1002.92 638.99h15v15h-15zM1005.75 652.44h15v15h-15zM1008.59 638.99h15v15h-15zM1011.42 668.91h15v15h-15zM1014.26 652.44h15v15h-15zM1017.09 668.91h15v15h-15zM1019.93 668.91h15v15h-15zM1022.76 668.91h15v15h-15zM1025.6 627.62h15v15h-15zM1028.43 652.44h15v15h-15zM1031.27 638.99h15v15h-15zM1034.1 652.44h15v15h-15zM1036.94 638.99h15v15h-15zM1039.77 638.99h15v15h-15zM1042.61 638.99h15v15h-15zM1045.44 652.44h15v15h-15zM1048.28 668.91h15v15h-15zM1051.11 668.91h15v15h-15zM1053.95 638.99h15v15h-15zM1056.78 627.62h15v15h-15zM1059.62 638.99h15v15h-15zM1062.45 690.14h15v15h-15zM1065.29 627.62h15v15h-15zM1068.12 652.44h15v15h-15zM1070.96 652.44h15v15h-15zM1073.79 652.44h15v15h-15zM1076.63 652.44h15v15h-15zM1079.46 627.62h15v15h-15zM1082.3 627.62h15v15h-15zM1085.13 668.91h15v15h-15zM1087.97 652.44h15v15h-15zM1090.8 652.44h15v15h-15zM1093.64 638.99h15v15h-15zM1096.47 720.06h15v15h-15zM1099.31 638.99h15v15h-15zM1102.14 627.62h15v15h-15z" fill="none" stroke="#ff5252" stroke-width="1.3" opacity="1"/></g>
<polyline points="404.68,97.16 409.12,113.44 413.56,129.52 418,145.38 422.44,160.98 426.89,176.29 431.33,191.27 435.77,205.86 440.21,220.03 444.65,233.73 449.1,246.91 453.54,259.54 457.98,271.58 462.42,282.99 466.86,293.77 471.31,303.89 475.75,313.38 480.19,322.22 484.63,330.46 489.07,338.11 493.52,345.22 497.96,351.83 502.4,357.97 506.84,363.71 511.29,369.07 515.73,374.11 520.17,378.86 524.61,383.35 529.05,387.63 533.5,391.71 537.94,395.63 542.38,399.41 546.82,403.06 551.26,406.61 555.71,410.06 560.15,413.43 564.59,416.72 569.03,419.96 573.47,423.14 577.92,426.27 582.36,429.35 586.8,432.39 591.24,435.4 595.69,438.37 600.13,441.31 604.57,444.23 609.01,447.11 613.45,449.97 617.9,452.8 622.34,455.61 626.78,458.39 631.22,461.15 635.66,463.89 640.11,466.61 644.55,469.31 648.99,471.98 653.43,474.63 657.87,477.26 662.32,479.87 666.76,482.46 671.2,485.02 675.64,487.56 680.08,490.08 684.53,492.58 688.97,495.06 693.41,497.51 697.85,499.94 702.3,502.35 706.74,504.73 711.18,507.09 715.62,509.43 720.06,511.74 724.51,514.02 728.95,516.28 733.39,518.52 737.83,520.73 742.27,522.91 746.72,525.06 751.16,527.19 755.6,529.29 760.04,531.37 764.48,533.42 768.93,535.43 773.37,537.42 777.81,539.38 782.25,541.32 786.7,543.22 791.14,545.09 795.58,546.94 800.02,548.75 804.46,550.54 808.91,552.29 813.35,554.01 817.79,555.7 822.23,557.37 826.67,559 831.12,560.6 835.56,562.17 840,563.71 844.44,565.21 848.88,566.69 853.33,568.14 857.77,569.55 862.21,570.94 866.65,572.29 871.09,573.61 875.54,574.91 879.98,576.17 884.42,577.4 888.86,578.61 893.31,579.78 897.75,580.93 902.19,582.05 906.63,583.13 911.07,584.19 915.52,585.23 919.96,586.23 924.4,587.21 928.84,588.16 933.28,589.09 937.73,589.99 942.17,590.86 946.61,591.71 951.05,592.53 955.49,593.33 959.94,594.11 964.38,594.86 968.82,595.59 973.26,596.3 977.71,596.99 982.15,597.66 986.59,598.3 991.03,598.92 995.47,599.53 999.92,600.11 1004.36,600.68 1008.8,601.23 1013.24,601.76 1017.68,602.27 1022.13,602.76 1026.57,603.24 1031.01,603.7 1035.45,604.15 1039.89,604.58 1044.34,605 1048.78,605.4 1053.22,605.79 1057.66,606.17 1062.1,606.53 1066.55,606.88 1070.99,607.21 1075.43,607.54 1079.87,607.85 1084.32,608.15 1088.76,608.44 1093.2,608.72 1097.64,609 1102.08,609.26 1106.53,609.51 1109.8,609.75" fill="none" stroke="#000" stroke-width="4.4" stroke-linejoin="round" stroke-linecap="round"/>
<polyline points="404.68,95.48 409.12,118.66 413.56,141.71 418,164.61 422.44,187.31 426.89,209.75 431.33,231.89 435.77,253.65 440.21,274.94 444.65,295.66 449.1,315.69 453.54,334.92 457.98,353.21 462.42,370.44 466.86,386.51 471.31,401.33 475.75,414.85 480.19,427.07 484.63,438.01 489.07,447.76 493.52,456.41 497.96,464.08 502.4,470.9 506.84,476.99 511.29,482.46 515.73,487.42 520.17,491.95 524.61,496.14 529.05,500.04 533.5,503.71 537.94,507.19 542.38,510.51 546.82,513.7 551.26,516.78 555.71,519.76 560.15,522.67 564.59,525.51 569.03,528.29 573.47,531.01 577.92,533.69 582.36,536.33 586.8,538.93 591.24,541.49 595.69,544.02 600.13,546.51 604.57,548.98 609.01,551.42 613.45,553.83 617.9,556.21 622.34,558.57 626.78,560.9 631.22,563.21 635.66,565.49 640.11,567.75 644.55,569.98 648.99,572.18 653.43,574.36 657.87,576.52 662.32,578.65 666.76,580.76 671.2,582.84 675.64,584.89 680.08,586.92 684.53,588.92 688.97,590.9 693.41,592.85 697.85,594.78 702.3,596.67 706.74,598.54 711.18,600.39 715.62,602.2 720.06,603.99 724.51,605.75 728.95,607.48 733.39,609.19 737.83,610.86 742.27,612.51 746.72,614.13 751.16,615.72 755.6,617.28 760.04,618.82 764.48,620.32 768.93,621.8 773.37,623.24 777.81,624.66 782.25,626.05 786.7,627.41 791.14,628.74 795.58,630.05 800.02,631.32 804.46,632.57 808.91,633.79 813.35,634.98 817.79,636.14 822.23,637.27 826.67,638.38 831.12,639.46 835.56,640.52 840,641.55 844.44,642.55 848.88,643.53 853.33,644.48 857.77,645.4 862.21,646.3 866.65,647.18 871.09,648.03 875.54,648.86 879.98,649.67 884.42,650.45 888.86,651.21 893.31,651.95 897.75,652.67 902.19,653.37 906.63,654.04 911.07,654.7 915.52,655.33 919.96,655.95 924.4,656.55 928.84,657.12 933.28,657.68 937.73,658.23 942.17,658.75 946.61,659.26 951.05,659.75 955.49,660.23 959.94,660.69 964.38,661.14 968.82,661.57 973.26,661.99 977.71,662.39 982.15,662.78 986.59,663.16 991.03,663.52 995.47,663.87 999.92,664.21 1004.36,664.54 1008.8,664.85 1013.24,665.16 1017.68,665.46 1022.13,665.74 1026.57,666.01 1031.01,666.28 1035.45,666.53 1039.89,666.78 1044.34,667.02 1048.78,667.25 1053.22,667.47 1057.66,667.68 1062.1,667.89 1066.55,668.09 1070.99,668.28 1075.43,668.46 1079.87,668.64 1084.32,668.81 1088.76,668.97 1093.2,669.13 1097.64,669.29 1102.08,669.43 1106.53,669.57 1109.8,669.71" fill="none" stroke="#ff0000" stroke-width="4.4" stroke-linejoin="round" stroke-linecap="round"/>
<g clip-path="url(#clip139987901784384)"><path d="M1350.56 672.4h15v15h-15zM1353.4 664.47h15v15h-15zM1356.24 657.22h15v15h-15zM1359.09 664.47h15v15h-15zM1361.93 681.17h15v15h-15zM1364.77 681.17h15v15h-15zM1367.61 672.4h15v15h-15zM1370.46 681.17h15v15h-15zM1373.3 664.47h15v15h-15zM1376.14 672.4h15v15h-15zM1378.98 664.47h15v15h-15zM1381.83 657.22h15v15h-15zM1384.67 650.56h15v15h-15zM1387.51 664.47h15v15h-15zM1390.35 681.17h15v15h-15zM1393.2 657.22h15v15h-15zM1396.04 664.47h15v15h-15zM1398.88 657.22h15v15h-15zM1401.72 672.4h15v15h-15zM1404.57 664.47h15v15h-15zM1407.41 664.47h15v15h-15zM1410.25 664.47h15v15h-15zM1413.09 657.22h15v15h-15zM1415.94 672.4h15v15h-15zM1418.78 664.47h15v15h-15zM1421.62 664.47h15v15h-15zM1424.46 672.4h15v15h-15zM1427.31 690.98h15v15h-15zM1430.15 664.47h15v15h-15zM1432.99 690.98h15v15h-15zM1435.83 681.17h15v15h-15zM1438.68 672.4h15v15h-15zM1441.52 664.47h15v15h-15zM1444.36 657.22h15v15h-15zM1447.2 657.22h15v15h-15zM1450.05 664.47h15v15h-15zM1452.89 672.4h15v15h-15zM1455.73 657.22h15v15h-15zM1458.57 672.4h15v15h-15zM1461.42 657.22h15v15h-15zM1464.26 690.98h15v15h-15zM1467.1 672.4h15v15h-15zM1469.94 672.4h15v15h-15zM1472.79 664.47h15v15h-15zM1475.63 690.98h15v15h-15zM1478.47 657.22h15v15h-15zM1481.31 628.22h15v15h-15zM1484.16 618.96h15v15h-15zM1487 610.63h15v15h-15zM1489.84 556.99h15v15h-15zM1492.68 532h15v15h-15zM1495.53 486.74h15v15h-15zM1498.37 452.69h15v15h-15zM1501.21 414.3h15v15h-15zM1504.05 376.56h15v15h-15zM1506.9 338.12h15v15h-15zM1509.74 297.23h15v15h-15zM1512.58 258.34h15v15h-15zM1515.42 220.27h15v15h-15zM1518.27 183.42h15v15h-15zM1521.11 145.91h15v15h-15zM1523.95 108.34h15v15h-15zM1526.79 97.3h15v15h-15zM1529.64 98.45h15v15h-15zM1532.48 97.3h15v15h-15zM1535.32 101.33h15v15h-15zM1538.16 114.85h15v15h-15zM1541.01 120.23h15v15h-15zM1543.85 128.8h15v15h-15zM1546.69 140.23h15v15h-15zM1549.53 147.98h15v15h-15zM1552.38 153.65h15v15h-15zM1555.22 164.73h15v15h-15zM1558.06 172.67h15v15h-15zM1560.9 178.94h15v15h-15zM1563.75 191.58h15v15h-15zM1566.59 201.39h15v15h-15zM1569.43 206.94h15v15h-15zM1572.27 214.03h15v15h-15zM1575.12 227.89h15v15h-15zM1577.96 229.63h15v15h-15zM1580.8 239.94h15v15h-15zM1583.64 247.95h15v15h-15zM1586.49 256.72h15v15h-15zM1589.33 262.47h15v15h-15zM1592.17 266.95h15v15h-15zM1595.01 275.18h15v15h-15zM1597.86 281.47h15v15h-15zM1600.7 291.21h15v15h-15zM1603.54 293.04h15v15h-15zM1606.38 300.25h15v15h-15zM1609.23 309.69h15v15h-15zM1612.07 322.56h15v15h-15zM1614.91 321.44h15v15h-15zM1617.75 320.65h15v15h-15zM1620.6 332.89h15v15h-15zM1623.44 340.63h15v15h-15zM1626.28 338.97h15v15h-15zM1629.12 349.58h15v15h-15zM1631.97 351.51h15v15h-15zM1634.81 355.36h15v15h-15zM1637.65 365.35h15v15h-15zM1640.49 365.43h15v15h-15zM1643.34 366.8h15v15h-15zM1646.18 374.37h15v15h-15zM1649.02 375.59h15v15h-15zM1651.86 380.77h15v15h-15zM1654.71 381.46h15v15h-15zM1657.55 382.58h15v15h-15zM1660.39 392.63h15v15h-15zM1663.23 393.51h15v15h-15zM1666.08 394.68h15v15h-15zM1668.92 399.88h15v15h-15zM1671.76 402.77h15v15h-15zM1674.6 404.08h15v15h-15zM1677.45 406.1h15v15h-15zM1680.29 409.57h15v15h-15zM1683.13 408.86h15v15h-15zM1685.97 409.57h15v15h-15zM1688.82 411.72h15v15h-15zM1691.66 413.93h15v15h-15zM1694.5 414.3h15v15h-15zM1697.34 423.83h15v15h-15zM1700.19 421.75h15v15h-15zM1703.03 422.58h15v15h-15zM1705.87 423.41h15v15h-15zM1708.71 431.76h15v15h-15zM1711.56 422.58h15v15h-15zM1714.4 432.69h15v15h-15zM1717.24 430.84h15v15h-15zM1720.08 430.84h15v15h-15zM1722.93 431.3h15v15h-15zM1725.77 438.01h15v15h-15zM1728.61 439.51h15v15h-15zM1731.45 438.01h15v15h-15zM1734.3 438.51h15v15h-15zM1737.14 439.01h15v15h-15zM1739.98 443.68h15v15h-15zM1742.82 446.94h15v15h-15zM1745.67 450.92h15v15h-15zM1748.51 441.57h15v15h-15zM1751.35 453.89h15v15h-15zM1754.19 448.06h15v15h-15zM1757.04 450.34h15v15h-15zM1759.88 450.34h15v15h-15zM1762.72 450.92h15v15h-15zM1765.56 450.92h15v15h-15zM1768.41 456.96h15v15h-15zM1771.25 456.96h15v15h-15zM1774.09 466.92h15v15h-15zM1776.93 460.8h15v15h-15zM1779.78 465.52h15v15h-15zM1782.62 464.14h15v15h-15zM1785.46 460.15h15v15h-15zM1788.3 465.52h15v15h-15zM1791.15 462.79h15v15h-15zM1793.99 469.06h15v15h-15zM1796.83 468.34h15v15h-15zM1799.67 472.77h15v15h-15zM1802.52 483.24h15v15h-15zM1805.36 476.64h15v15h-15zM1808.2 475.85h15v15h-15zM1811.04 475.07h15v15h-15zM1813.89 477.43h15v15h-15zM1816.73 479.05h15v15h-15zM1819.57 475.85h15v15h-15zM1822.41 478.24h15v15h-15zM1825.26 484.1h15v15h-15zM1828.1 479.87h15v15h-15zM1830.94 493.26h15v15h-15zM1833.78 486.74h15v15h-15zM1836.63 487.64h15v15h-15zM1839.47 482.38h15v15h-15zM1842.31 491.34h15v15h-15zM1845.15 497.22h15v15h-15zM1848 491.34h15v15h-15zM1850.84 485.85h15v15h-15zM1853.68 495.22h15v15h-15zM1856.52 495.22h15v15h-15zM1859.37 497.22h15v15h-15zM1862.21 497.22h15v15h-15zM1865.05 493.26h15v15h-15zM1867.89 491.34h15v15h-15zM1870.74 499.28h15v15h-15zM1873.58 502.46h15v15h-15zM1876.42 495.22h15v15h-15zM1879.26 503.55h15v15h-15zM1882.11 505.77h15v15h-15zM1884.95 509.21h15v15h-15zM1887.79 509.21h15v15h-15zM1890.63 508.05h15v15h-15zM1893.48 511.59h15v15h-15zM1896.32 510.39h15v15h-15zM1899.16 512.81h15v15h-15zM1902 511.59h15v15h-15zM1904.85 517.86h15v15h-15zM1907.69 517.86h15v15h-15zM1910.53 516.56h15v15h-15zM1913.37 519.17h15v15h-15zM1916.22 520.5h15v15h-15zM1919.06 515.29h15v15h-15zM1921.9 528.97h15v15h-15zM1924.74 535.14h15v15h-15zM1927.59 521.85h15v15h-15zM1930.43 527.5h15v15h-15zM1933.27 520.5h15v15h-15zM1936.11 528.97h15v15h-15zM1938.96 536.76h15v15h-15zM1941.8 519.17h15v15h-15zM1944.64 530.47h15v15h-15zM1947.48 536.76h15v15h-15zM1950.33 538.41h15v15h-15zM1953.17 532h15v15h-15zM1956.01 540.09h15v15h-15zM1958.85 535.14h15v15h-15zM1961.7 532h15v15h-15zM1964.54 549.05h15v15h-15zM1967.38 543.56h15v15h-15zM1970.22 540.09h15v15h-15zM1973.07 533.56h15v15h-15zM1975.91 538.41h15v15h-15zM1978.75 549.05h15v15h-15zM1981.59 538.41h15v15h-15zM1984.44 550.96h15v15h-15zM1987.28 549.05h15v15h-15zM1990.12 547.18h15v15h-15zM1992.96 559.09h15v15h-15zM1995.81 535.14h15v15h-15zM1998.65 545.35h15v15h-15zM2001.49 552.92h15v15h-15zM2004.33 559.09h15v15h-15zM2007.18 563.48h15v15h-15zM2010.02 554.93h15v15h-15zM2012.86 552.92h15v15h-15zM2015.7 561.26h15v15h-15zM2018.55 561.26h15v15h-15zM2021.39 556.99h15v15h-15zM2024.23 563.48h15v15h-15zM2027.07 575.56h15v15h-15zM2029.92 559.09h15v15h-15zM2032.76 563.48h15v15h-15zM2035.6 561.26h15v15h-15zM2038.44 573h15v15h-15zM2041.29 583.76h15v15h-15zM2044.13 578.21h15v15h-15zM2046.97 568.1h15v15h-15zM2049.81 556.99h15v15h-15zM2052.66 556.99h15v15h-15zM2055.5 570.52h15v15h-15zM2058.34 583.76h15v15h-15zM2061.18 575.56h15v15h-15zM2064.03 573h15v15h-15zM2066.87 573h15v15h-15zM2069.71 575.56h15v15h-15zM2072.55 568.1h15v15h-15zM2075.4 586.68h15v15h-15zM2078.24 596.11h15v15h-15zM2081.08 586.68h15v15h-15zM2083.92 589.71h15v15h-15zM2086.77 565.76h15v15h-15zM2089.61 583.76h15v15h-15zM2092.45 596.11h15v15h-15zM2095.29 580.94h15v15h-15zM2098.14 578.21h15v15h-15zM2100.98 586.68h15v15h-15zM2103.82 586.68h15v15h-15zM2106.66 580.94h15v15h-15zM2109.51 583.76h15v15h-15zM2112.35 596.11h15v15h-15zM2115.19 586.68h15v15h-15zM2118.03 583.76h15v15h-15zM2120.88 589.71h15v15h-15zM2123.72 586.68h15v15h-15zM2126.56 586.68h15v15h-15zM2129.4 596.11h15v15h-15zM2132.25 596.11h15v15h-15zM2135.09 589.71h15v15h-15zM2137.93 599.51h15v15h-15zM2140.77 586.68h15v15h-15zM2143.62 586.68h15v15h-15zM2146.46 618.96h15v15h-15zM2149.3 599.51h15v15h-15zM2152.14 606.76h15v15h-15zM2154.99 606.76h15v15h-15zM2157.83 599.51h15v15h-15zM2160.67 603.06h15v15h-15zM2163.51 596.11h15v15h-15zM2166.36 599.51h15v15h-15zM2169.2 599.51h15v15h-15zM2172.04 610.63h15v15h-15zM2174.88 606.76h15v15h-15zM2177.73 592.85h15v15h-15zM2180.57 628.22h15v15h-15zM2183.41 592.85h15v15h-15zM2186.25 610.63h15v15h-15zM2189.1 596.11h15v15h-15zM2191.94 633.27h15v15h-15zM2194.78 610.63h15v15h-15zM2197.62 603.06h15v15h-15zM2200.47 606.76h15v15h-15zM2203.31 599.51h15v15h-15zM2206.15 618.96h15v15h-15zM2208.99 614.69h15v15h-15zM2211.84 618.96h15v15h-15zM2214.68 606.76h15v15h-15zM2217.52 606.76h15v15h-15z" fill="none" stroke="#4a4a4a" stroke-width="1.3" opacity="1"/></g>
<g clip-path="url(#clip139987901784384)"><path d="M1349.8 714.93h15v15h-15zM1352.64 714.93h15v15h-15zM1355.48 714.93h15v15h-15zM1358.33 702.09h15v15h-15zM1361.17 714.93h15v15h-15zM1364.01 702.09h15v15h-15zM1366.86 714.93h15v15h-15zM1369.7 714.93h15v15h-15zM1372.54 714.93h15v15h-15zM1375.38 690.98h15v15h-15zM1378.22 714.93h15v15h-15zM1381.07 702.09h15v15h-15zM1383.91 690.98h15v15h-15zM1386.75 702.09h15v15h-15zM1389.6 702.09h15v15h-15zM1392.44 690.98h15v15h-15zM1395.28 730.11h15v15h-15zM1398.12 730.11h15v15h-15zM1400.96 714.93h15v15h-15zM1403.81 714.93h15v15h-15zM1406.65 714.93h15v15h-15zM1409.49 681.17h15v15h-15zM1412.34 681.17h15v15h-15zM1415.18 702.09h15v15h-15zM1418.02 702.09h15v15h-15zM1420.86 714.93h15v15h-15zM1423.7 702.09h15v15h-15zM1426.55 730.11h15v15h-15zM1429.39 690.98h15v15h-15zM1432.23 714.93h15v15h-15zM1435.08 702.09h15v15h-15zM1437.92 730.11h15v15h-15zM1440.76 690.98h15v15h-15zM1443.6 702.09h15v15h-15zM1446.44 681.17h15v15h-15zM1449.29 702.09h15v15h-15zM1452.13 730.11h15v15h-15zM1454.97 714.93h15v15h-15zM1457.82 730.11h15v15h-15zM1460.66 690.98h15v15h-15zM1463.5 714.93h15v15h-15zM1466.34 714.93h15v15h-15zM1469.18 702.09h15v15h-15zM1472.03 702.09h15v15h-15zM1474.87 702.09h15v15h-15zM1477.71 714.93h15v15h-15zM1480.56 702.09h15v15h-15zM1483.4 644.39h15v15h-15zM1486.24 603.06h15v15h-15zM1489.08 533.56h15v15h-15zM1491.93 492.29h15v15h-15zM1494.77 453.89h15v15h-15zM1497.61 406.78h15v15h-15zM1500.45 362.89h15v15h-15zM1503.3 319h15v15h-15zM1506.14 275.28h15v15h-15zM1508.98 230.44h15v15h-15zM1511.82 188.43h15v15h-15zM1514.67 167.9h15v15h-15zM1517.51 151.64h15v15h-15zM1520.35 123.59h15v15h-15zM1523.19 107.48h15v15h-15zM1526.04 106.84h15v15h-15zM1528.88 97.3h15v15h-15zM1531.72 99.52h15v15h-15zM1534.56 108.36h15v15h-15zM1537.41 130.53h15v15h-15zM1540.25 138.54h15v15h-15zM1543.09 157.24h15v15h-15zM1545.93 171.48h15v15h-15zM1548.78 187.17h15v15h-15zM1551.62 202.91h15v15h-15zM1554.46 218.14h15v15h-15zM1557.3 237.38h15v15h-15zM1560.15 253.36h15v15h-15zM1562.99 271.14h15v15h-15zM1565.83 283.67h15v15h-15zM1568.67 300.84h15v15h-15zM1571.52 318.3h15v15h-15zM1574.36 327.19h15v15h-15zM1577.2 342.97h15v15h-15zM1580.04 366.08h15v15h-15zM1582.89 377.95h15v15h-15zM1585.73 387.47h15v15h-15zM1588.57 403.75h15v15h-15zM1591.41 410.28h15v15h-15zM1594.26 425.53h15v15h-15zM1597.1 436.52h15v15h-15zM1599.94 447.5h15v15h-15zM1602.78 456.96h15v15h-15zM1605.63 474.29h15v15h-15zM1608.47 480.7h15v15h-15zM1611.31 492.29h15v15h-15zM1614.15 499.28h15v15h-15zM1617 509.21h15v15h-15zM1619.84 514.04h15v15h-15zM1622.68 526.05h15v15h-15zM1625.52 538.41h15v15h-15zM1628.37 541.81h15v15h-15zM1631.21 556.99h15v15h-15zM1634.05 552.92h15v15h-15zM1636.89 550.96h15v15h-15zM1639.74 570.52h15v15h-15zM1642.58 583.76h15v15h-15zM1645.42 575.56h15v15h-15zM1648.26 583.76h15v15h-15zM1651.11 583.76h15v15h-15zM1653.95 592.85h15v15h-15zM1656.79 589.71h15v15h-15zM1659.63 603.06h15v15h-15zM1662.48 583.76h15v15h-15zM1665.32 599.51h15v15h-15zM1668.16 596.11h15v15h-15zM1671 596.11h15v15h-15zM1673.85 606.76h15v15h-15zM1676.69 603.06h15v15h-15zM1679.53 610.63h15v15h-15zM1682.37 614.69h15v15h-15zM1685.22 614.69h15v15h-15zM1688.06 606.76h15v15h-15zM1690.9 628.22h15v15h-15zM1693.74 623.46h15v15h-15zM1696.59 623.46h15v15h-15zM1699.43 623.46h15v15h-15zM1702.27 610.63h15v15h-15zM1705.11 618.96h15v15h-15zM1707.95 623.46h15v15h-15zM1710.8 623.46h15v15h-15zM1713.64 614.69h15v15h-15zM1716.48 633.27h15v15h-15zM1719.32 614.69h15v15h-15zM1722.17 657.22h15v15h-15zM1725.01 638.64h15v15h-15zM1727.85 614.69h15v15h-15zM1730.69 614.69h15v15h-15zM1733.54 628.22h15v15h-15zM1736.38 638.64h15v15h-15zM1739.22 623.46h15v15h-15zM1742.06 638.64h15v15h-15zM1744.91 618.96h15v15h-15zM1747.75 623.46h15v15h-15zM1750.59 628.22h15v15h-15zM1753.43 644.39h15v15h-15zM1756.28 628.22h15v15h-15zM1759.12 638.64h15v15h-15zM1761.96 638.64h15v15h-15zM1764.8 644.39h15v15h-15zM1767.65 644.39h15v15h-15zM1770.49 633.27h15v15h-15zM1773.33 633.27h15v15h-15zM1776.17 633.27h15v15h-15zM1779.02 610.63h15v15h-15zM1781.86 650.56h15v15h-15zM1784.7 633.27h15v15h-15zM1787.54 650.56h15v15h-15zM1790.39 650.56h15v15h-15zM1793.23 657.22h15v15h-15zM1796.07 633.27h15v15h-15zM1798.91 644.39h15v15h-15zM1801.76 644.39h15v15h-15zM1804.6 650.56h15v15h-15zM1807.44 638.64h15v15h-15zM1810.28 657.22h15v15h-15zM1813.13 644.39h15v15h-15zM1815.97 628.22h15v15h-15zM1818.81 650.56h15v15h-15zM1821.65 657.22h15v15h-15zM1824.5 664.47h15v15h-15zM1827.34 644.39h15v15h-15zM1830.18 650.56h15v15h-15zM1833.02 664.47h15v15h-15zM1835.87 664.47h15v15h-15zM1838.71 657.22h15v15h-15zM1841.55 664.47h15v15h-15zM1844.39 633.27h15v15h-15zM1847.24 657.22h15v15h-15zM1850.08 657.22h15v15h-15zM1852.92 657.22h15v15h-15zM1855.76 681.17h15v15h-15zM1858.61 681.17h15v15h-15zM1861.45 664.47h15v15h-15zM1864.29 657.22h15v15h-15zM1867.13 672.4h15v15h-15zM1869.98 638.64h15v15h-15zM1872.82 657.22h15v15h-15zM1875.66 644.39h15v15h-15zM1878.5 644.39h15v15h-15zM1881.35 664.47h15v15h-15zM1884.19 633.27h15v15h-15zM1887.03 657.22h15v15h-15zM1889.87 690.98h15v15h-15zM1892.72 702.09h15v15h-15zM1895.56 664.47h15v15h-15zM1898.4 650.56h15v15h-15zM1901.24 664.47h15v15h-15zM1904.09 644.39h15v15h-15zM1906.93 672.4h15v15h-15zM1909.77 657.22h15v15h-15zM1912.61 657.22h15v15h-15zM1915.46 681.17h15v15h-15zM1918.3 664.47h15v15h-15zM1921.14 664.47h15v15h-15zM1923.98 657.22h15v15h-15zM1926.83 650.56h15v15h-15zM1929.67 657.22h15v15h-15zM1932.51 681.17h15v15h-15zM1935.35 657.22h15v15h-15zM1938.2 657.22h15v15h-15zM1941.04 664.47h15v15h-15zM1943.88 657.22h15v15h-15zM1946.72 657.22h15v15h-15zM1949.57 657.22h15v15h-15zM1952.41 672.4h15v15h-15zM1955.25 664.47h15v15h-15zM1958.09 664.47h15v15h-15zM1960.94 672.4h15v15h-15zM1963.78 681.17h15v15h-15zM1966.62 672.4h15v15h-15zM1969.46 690.98h15v15h-15zM1972.31 672.4h15v15h-15zM1975.15 664.47h15v15h-15zM1977.99 664.47h15v15h-15zM1980.83 664.47h15v15h-15zM1983.68 672.4h15v15h-15zM1986.52 657.22h15v15h-15zM1989.36 681.17h15v15h-15zM1992.2 664.47h15v15h-15zM1995.05 672.4h15v15h-15zM1997.89 681.17h15v15h-15zM2000.73 681.17h15v15h-15zM2003.57 664.47h15v15h-15zM2006.42 672.4h15v15h-15zM2009.26 672.4h15v15h-15zM2012.1 644.39h15v15h-15zM2014.94 664.47h15v15h-15zM2017.79 672.4h15v15h-15zM2020.63 664.47h15v15h-15zM2023.47 681.17h15v15h-15zM2026.31 681.17h15v15h-15zM2029.16 672.4h15v15h-15zM2032 690.98h15v15h-15zM2034.84 672.4h15v15h-15zM2037.68 681.17h15v15h-15zM2040.53 672.4h15v15h-15zM2043.37 702.09h15v15h-15zM2046.21 657.22h15v15h-15zM2049.05 681.17h15v15h-15zM2051.9 672.4h15v15h-15zM2054.74 690.98h15v15h-15zM2057.58 702.09h15v15h-15zM2060.42 681.17h15v15h-15zM2063.27 681.17h15v15h-15zM2066.11 672.4h15v15h-15zM2068.95 690.98h15v15h-15zM2071.79 690.98h15v15h-15zM2074.64 672.4h15v15h-15zM2077.48 672.4h15v15h-15zM2080.32 664.47h15v15h-15zM2083.16 681.17h15v15h-15zM2086.01 672.4h15v15h-15zM2088.85 690.98h15v15h-15zM2091.69 664.47h15v15h-15zM2094.53 664.47h15v15h-15zM2097.38 664.47h15v15h-15zM2100.22 702.09h15v15h-15zM2103.06 664.47h15v15h-15zM2105.9 690.98h15v15h-15zM2108.75 672.4h15v15h-15zM2111.59 672.4h15v15h-15zM2114.43 664.47h15v15h-15zM2117.27 681.17h15v15h-15zM2120.12 681.17h15v15h-15zM2122.96 690.98h15v15h-15zM2125.8 702.09h15v15h-15zM2128.64 672.4h15v15h-15zM2131.49 690.98h15v15h-15zM2134.33 672.4h15v15h-15zM2137.17 681.17h15v15h-15zM2140.01 690.98h15v15h-15zM2142.86 664.47h15v15h-15zM2145.7 672.4h15v15h-15zM2148.54 690.98h15v15h-15zM2151.38 681.17h15v15h-15zM2154.23 681.17h15v15h-15zM2157.07 672.4h15v15h-15zM2159.91 690.98h15v15h-15zM2162.75 690.98h15v15h-15zM2165.6 681.17h15v15h-15zM2168.44 672.4h15v15h-15zM2171.28 672.4h15v15h-15zM2174.12 690.98h15v15h-15zM2176.97 657.22h15v15h-15zM2179.81 672.4h15v15h-15zM2182.65 690.98h15v15h-15zM2185.49 702.09h15v15h-15zM2188.34 690.98h15v15h-15zM2191.18 730.11h15v15h-15zM2194.02 681.17h15v15h-15zM2196.86 672.4h15v15h-15zM2199.71 664.47h15v15h-15zM2202.55 672.4h15v15h-15zM2205.39 714.93h15v15h-15zM2208.23 681.17h15v15h-15zM2211.08 672.4h15v15h-15zM2213.92 714.93h15v15h-15zM2216.76 690.98h15v15h-15z" fill="none" stroke="#ff5252" stroke-width="1.3" opacity="1"/></g>
<polyline points="1539.41,97.93 1543.73,111.84 1548.05,125.65 1552.37,139.34 1556.69,152.92 1561.01,166.35 1565.33,179.62 1569.65,192.71 1573.97,205.6 1578.29,218.27 1582.61,230.68 1586.93,242.83 1591.25,254.67 1595.57,266.19 1599.89,277.36 1604.21,288.16 1608.54,298.56 1612.86,308.54 1617.18,318.09 1621.5,327.2 1625.82,335.85 1630.14,344.05 1634.46,351.8 1638.78,359.09 1643.1,365.96 1647.42,372.4 1651.74,378.45 1656.06,384.11 1660.38,389.42 1664.7,394.4 1669.02,399.07 1673.34,403.47 1677.66,407.6 1681.98,411.51 1686.3,415.21 1690.62,418.73 1694.94,422.08 1699.26,425.28 1703.58,428.35 1707.9,431.3 1712.22,434.15 1716.54,436.91 1720.86,439.6 1725.19,442.21 1729.51,444.76 1733.83,447.25 1738.15,449.7 1742.47,452.1 1746.79,454.47 1751.11,456.8 1755.43,459.1 1759.75,461.38 1764.07,463.63 1768.39,465.87 1772.71,468.08 1777.03,470.27 1781.35,472.45 1785.67,474.62 1789.99,476.77 1794.31,478.9 1798.63,481.03 1802.95,483.14 1807.27,485.24 1811.59,487.33 1815.91,489.42 1820.23,491.49 1824.55,493.55 1828.87,495.6 1833.19,497.64 1837.51,499.68 1841.83,501.7 1846.16,503.72 1850.48,505.72 1854.8,507.72 1859.12,509.71 1863.44,511.68 1867.76,513.65 1872.08,515.61 1876.4,517.56 1880.72,519.5 1885.04,521.42 1889.36,523.34 1893.68,525.25 1898,527.15 1902.32,529.04 1906.64,530.91 1910.96,532.78 1915.28,534.63 1919.6,536.47 1923.92,538.31 1928.24,540.13 1932.56,541.93 1936.88,543.73 1941.2,545.52 1945.52,547.29 1949.84,549.05 1954.16,550.79 1958.48,552.53 1962.8,554.25 1967.13,555.96 1971.45,557.65 1975.77,559.33 1980.09,561 1984.41,562.66 1988.73,564.3 1993.05,565.92 1997.37,567.53 2001.69,569.13 2006.01,570.71 2010.33,572.28 2014.65,573.84 2018.97,575.37 2023.29,576.9 2027.61,578.41 2031.93,579.9 2036.25,581.38 2040.57,582.84 2044.89,584.28 2049.21,585.71 2053.53,587.13 2057.85,588.53 2062.17,589.91 2066.49,591.28 2070.81,592.63 2075.13,593.96 2079.45,595.28 2083.78,596.58 2088.1,597.86 2092.42,599.13 2096.74,600.38 2101.06,601.62 2105.38,602.84 2109.7,604.04 2114.02,605.23 2118.34,606.4 2122.66,607.55 2126.98,608.68 2131.3,609.8 2135.62,610.91 2139.94,611.99 2144.26,613.06 2148.58,614.12 2152.9,615.15 2157.22,616.17 2161.54,617.18 2165.86,618.17 2170.18,619.14 2174.5,620.09 2178.82,621.03 2183.14,621.96 2187.46,622.87 2191.78,623.76 2196.1,624.64 2200.42,625.5 2204.75,626.34 2209.07,627.17 2213.39,627.99 2217.71,628.79 2222.03,629.58 2225.5,630.35" fill="none" stroke="#000" stroke-width="4.4" stroke-linejoin="round" stroke-linecap="round"/>
<polyline points="1539.41,98.73 1543.73,124.34 1548.05,149.72 1552.37,174.86 1556.69,199.73 1561.01,224.31 1565.33,248.56 1569.65,272.46 1573.97,295.95 1578.29,319 1582.61,341.55 1586.93,363.54 1591.25,384.9 1595.57,405.56 1599.89,425.44 1604.21,444.45 1608.54,462.51 1612.86,479.54 1617.18,495.47 1621.5,510.24 1625.82,523.82 1630.14,536.2 1634.46,547.39 1638.78,557.44 1643.1,566.41 1647.42,574.39 1651.74,581.45 1656.06,587.71 1660.38,593.25 1664.7,598.18 1669.02,602.57 1673.34,606.51 1677.66,610.07 1681.98,613.3 1686.3,616.26 1690.62,618.99 1694.94,621.52 1699.26,623.89 1703.58,626.12 1707.9,628.24 1712.22,630.25 1716.54,632.17 1720.86,634.02 1725.19,635.8 1729.51,637.53 1733.83,639.2 1738.15,640.82 1742.47,642.4 1746.79,643.93 1751.11,645.43 1755.43,646.9 1759.75,648.32 1764.07,649.72 1768.39,651.09 1772.71,652.42 1777.03,653.73 1781.35,655 1785.67,656.25 1789.99,657.48 1794.31,658.67 1798.63,659.84 1802.95,660.98 1807.27,662.1 1811.59,663.19 1815.91,664.26 1820.23,665.3 1824.55,666.32 1828.87,667.32 1833.19,668.29 1837.51,669.24 1841.83,670.16 1846.16,671.07 1850.48,671.95 1854.8,672.81 1859.12,673.64 1863.44,674.46 1867.76,675.25 1872.08,676.03 1876.4,676.78 1880.72,677.52 1885.04,678.23 1889.36,678.93 1893.68,679.61 1898,680.27 1902.32,680.91 1906.64,681.53 1910.96,682.14 1915.28,682.73 1919.6,683.3 1923.92,683.85 1928.24,684.4 1932.56,684.92 1936.88,685.43 1941.2,685.93 1945.52,686.41 1949.84,686.87 1954.16,687.33 1958.48,687.76 1962.8,688.19 1967.13,688.6 1971.45,689 1975.77,689.39 1980.09,689.77 1984.41,690.14 1988.73,690.49 1993.05,690.83 1997.37,691.17 2001.69,691.49 2006.01,691.8 2010.33,692.1 2014.65,692.4 2018.97,692.68 2023.29,692.95 2027.61,693.22 2031.93,693.48 2036.25,693.73 2040.57,693.97 2044.89,694.2 2049.21,694.43 2053.53,694.65 2057.85,694.86 2062.17,695.06 2066.49,695.26 2070.81,695.45 2075.13,695.64 2079.45,695.82 2083.78,695.99 2088.1,696.16 2092.42,696.32 2096.74,696.48 2101.06,696.63 2105.38,696.78 2109.7,696.92 2114.02,697.05 2118.34,697.19 2122.66,697.31 2126.98,697.44 2131.3,697.56 2135.62,697.67 2139.94,697.79 2144.26,697.89 2148.58,698 2152.9,698.1 2157.22,698.2 2161.54,698.29 2165.86,698.38 2170.18,698.47 2174.5,698.55 2178.82,698.64 2183.14,698.71 2187.46,698.79 2191.78,698.87 2196.1,698.94 2200.42,699.01 2204.75,699.07 2209.07,699.14 2213.39,699.2 2217.71,699.26 2222.03,699.32 2225.5,699.37" fill="none" stroke="#ff0000" stroke-width="4.4" stroke-linejoin="round" stroke-linecap="round"/>
<polyline points="280.3,973.5 369.9,972.17 459.5,976.17 638.7,976.17 817.9,977.5 1086.7,974.83" fill="none" stroke="#000" stroke-width="4" stroke-linejoin="round"/>
<rect x="273.4" y="966" width="13.8" height="15" fill="#000"/>
<rect x="363" y="964.67" width="13.8" height="15" fill="#000"/>
<rect x="452.6" y="968.67" width="13.8" height="15" fill="#000"/>
<rect x="631.8" y="968.67" width="13.8" height="15" fill="#000"/>
<rect x="811" y="970" width="13.8" height="15" fill="#000"/>
<rect x="1079.8" y="967.33" width="13.8" height="15" fill="#000"/>
<polyline points="280.3,973.5 369.9,1102.86 459.5,1188.88 638.7,1312.9 817.9,1386.25 1086.7,1457.6" fill="none" stroke="#ff0014" stroke-width="4.2" stroke-linejoin="round"/>
<ellipse cx="280.3" cy="973.5" rx="8.64" ry="9" fill="#ff0014"/>
<ellipse cx="369.9" cy="1102.86" rx="8.64" ry="9" fill="#ff0014"/>
<ellipse cx="459.5" cy="1188.88" rx="8.64" ry="9" fill="#ff0014"/>
<ellipse cx="638.7" cy="1312.9" rx="8.64" ry="9" fill="#ff0014"/>
<ellipse cx="817.9" cy="1386.25" rx="8.64" ry="9" fill="#ff0014"/>
<ellipse cx="1086.7" cy="1457.6" rx="8.64" ry="9" fill="#ff0014"/>
<polyline points="280.3,973.5 369.9,1167.54 459.5,1292.9 638.7,1429.59 817.9,1517.61 1086.7,1556.28" fill="none" stroke="#00f000" stroke-width="6" stroke-linejoin="round"/>
<path d="M280.3 961.32L291.85 982.32L268.75 982.32z" fill="#00f000"/>
<path d="M369.9 1155.36L381.45 1176.36L358.35 1176.36z" fill="#00f000"/>
<path d="M459.5 1280.72L471.05 1301.72L447.95 1301.72z" fill="#00f000"/>
<path d="M638.7 1417.41L650.25 1438.41L627.15 1438.41z" fill="#00f000"/>
<path d="M817.9 1505.43L829.45 1526.43L806.35 1526.43z" fill="#00f000"/>
<path d="M1086.7 1544.1L1098.25 1565.1L1075.15 1565.1z" fill="#00f000"/>
<polyline points="280.3,973.5 369.9,1388.92 459.5,1516.28 638.7,1594.29 817.9,1606.96 1086.7,1613.63" fill="none" stroke="#1d3cff" stroke-width="3.6" stroke-linejoin="round"/>
<path d="M280.3 963L292.06 973.5L280.3 984L268.54 973.5z" fill="#1d3cff"/>
<path d="M369.9 1378.42L381.66 1388.92L369.9 1399.42L358.14 1388.92z" fill="#1d3cff"/>
<path d="M459.5 1505.78L471.26 1516.28L459.5 1526.78L447.74 1516.28z" fill="#1d3cff"/>
<path d="M638.7 1583.79L650.46 1594.29L638.7 1604.79L626.94 1594.29z" fill="#1d3cff"/>
<path d="M817.9 1596.46L829.66 1606.96L817.9 1617.46L806.14 1606.96z" fill="#1d3cff"/>
<path d="M1086.7 1603.13L1098.46 1613.63L1086.7 1624.13L1074.94 1613.63z" fill="#1d3cff"/>
<polyline points="1459.82,1490.27 1790.72,1425.28 2095.15,1047.43" fill="none" stroke="#ff0014" stroke-width="4.4" stroke-linejoin="round"/>
<polyline points="1459.82,1537.1 1790.72,1467.17 2095.15,1159.48" fill="none" stroke="#000" stroke-width="4.4" stroke-linejoin="round"/>
<rect x="1451.08" y="1480.77" width="17.48" height="19" fill="#ff0014"/>
<rect x="1781.98" y="1415.78" width="17.48" height="19" fill="#ff0014"/>
<rect x="2086.41" y="1037.93" width="17.48" height="19" fill="#ff0014"/>
<rect x="1451.08" y="1527.6" width="17.48" height="19" fill="#000"/>
<rect x="1781.98" y="1457.67" width="17.48" height="19" fill="#000"/>
<rect x="2086.41" y="1149.98" width="17.48" height="19" fill="#000"/>
<rect x="641.1" y="104.1" width="19" height="19" fill="none" stroke="#ff4040" stroke-width="2.3"/>
<rect x="641.1" y="154.4" width="19" height="19" fill="none" stroke="#4a4a4a" stroke-width="2.3"/>
<text transform="translate(708.88 126.8) scale(0.9318 1)" font-size="39.5" font-family="'Liberation Sans', Arial, sans-serif" font-weight="bold" fill="#000">Au-CdS, 14.0 nm, (i)</text>
<text transform="translate(708.28 176.6) scale(0.9358 1)" font-size="39.5" font-family="'Liberation Sans', Arial, sans-serif" font-weight="bold" fill="#000">CdS counterpart, (ii)</text>
<rect x="1758.6" y="104.7" width="19" height="19" fill="none" stroke="#ff4040" stroke-width="2.3"/>
<rect x="1758.6" y="155.3" width="19" height="19" fill="none" stroke="#4a4a4a" stroke-width="2.3"/>
<text transform="translate(1826.89 128.6) scale(0.9299 1)" font-size="39.5" font-family="'Liberation Sans', Arial, sans-serif" font-weight="bold" fill="#000">Au-CdS, 18.6 nm, (i)</text>
<text transform="translate(1826.3 178.2) scale(0.9286 1)" font-size="39.5" font-family="'Liberation Sans', Arial, sans-serif" font-weight="bold" fill="#000">CdS counterpart, (ii)</text>
<line x1="670.9" y1="1036.3" x2="761.9" y2="1036.3" stroke="#000" stroke-width="4" stroke-linecap="round"/>
<rect x="707.53" y="1026.55" width="17.94" height="19.5" fill="#000"/>
<line x1="670.9" y1="1088.6" x2="761.9" y2="1088.6" stroke="#ff0014" stroke-width="4.2" stroke-linecap="round"/>
<ellipse cx="716.5" cy="1088.6" rx="10.56" ry="11" fill="#ff0014"/>
<line x1="670.9" y1="1140.9" x2="761.9" y2="1140.9" stroke="#00f000" stroke-width="6" stroke-linecap="round"/>
<path d="M716.5 1127.24L731.35 1154.24L701.65 1154.24z" fill="#00f000"/>
<line x1="670.9" y1="1192" x2="761.9" y2="1192" stroke="#1d3cff" stroke-width="3.6" stroke-linecap="round"/>
<path d="M716.5 1177.75L732.46 1192L716.5 1206.25L700.54 1192z" fill="#1d3cff"/>
<text transform="translate(772.72 1050.8) scale(1.0314 1)" font-size="39" font-family="'Liberation Sans', Arial, sans-serif" font-weight="bold" fill="#000">without catalyst</text>
<text transform="translate(771.2 1102.5) scale(1.0264 1)" font-size="39" font-family="'Liberation Sans', Arial, sans-serif" font-weight="bold" fill="#000">Au-CdS,</text>
<text transform="translate(952.22 1102.5) scale(1.0202 1)" font-size="39" font-family="'Liberation Sans', Arial, sans-serif" font-weight="bold" fill="#000">9.0 nm</text>
<text transform="translate(771.2 1153.9) scale(1.0268 1)" font-size="39" font-family="'Liberation Sans', Arial, sans-serif" font-weight="bold" fill="#000">Au-CdS, 14.0 nm</text>
<text transform="translate(771.2 1205.6) scale(1.0268 1)" font-size="39" font-family="'Liberation Sans', Arial, sans-serif" font-weight="bold" fill="#000">Au-CdS, 18.6 nm</text>
<text transform="translate(1383.33 1003.7) scale(0.9091 1)" font-size="43" font-family="'Liberation Sans', Arial, sans-serif" font-weight="bold" fill="#000">Au-CdS Nanocrystals</text>
<g clip-path="url(#ia1)"><rect x="658.2" y="218.6" width="188.8" height="189.6" fill="#b8b8b8"/><g filter="url(#rough)"><circle cx="735" cy="318" r="30" fill="#c0c0c0"/><circle cx="820" cy="270" r="18" fill="#bdbdbd"/><circle cx="690" cy="235" r="16" fill="#bcbcbc"/><circle cx="815" cy="395" r="14" fill="#bdbdbd"/></g><g filter="url(#rough)"><g fill="#727272" opacity="1"><circle cx="752" cy="262" r="22.94"/><circle cx="768.38" cy="258.37" r="15.05"/><circle cx="765.77" cy="280.08" r="16.47"/><circle cx="743.01" cy="277.56" r="16.17"/><circle cx="735.77" cy="273.18" r="16.53"/><circle cx="737.5" cy="252.88" r="12.11"/><circle cx="749.57" cy="240.63" r="14.9"/><circle cx="762.01" cy="244.46" r="16.19"/></g><g fill="#787878" opacity="1"><circle cx="686" cy="294" r="22.32"/><circle cx="701.61" cy="289.29" r="14.37"/><circle cx="696.6" cy="313.1" r="12.67"/><circle cx="687.29" cy="311.77" r="14.42"/><circle cx="671.5" cy="302.52" r="15.57"/><circle cx="670.02" cy="279.34" r="12.65"/><circle cx="684.63" cy="277.55" r="11.82"/><circle cx="703.31" cy="279.98" r="13.84"/></g><g fill="#707070" opacity="1"><circle cx="798" cy="322" r="24.18"/><circle cx="821.32" cy="320.79" r="14.73"/><circle cx="809.99" cy="338.57" r="15.21"/><circle cx="793.44" cy="344.3" r="16.26"/><circle cx="774.87" cy="326.53" r="13.15"/><circle cx="780.56" cy="315.01" r="14.59"/><circle cx="795.88" cy="299.6" r="16.66"/><circle cx="812.43" cy="308.48" r="13.4"/></g><g fill="#767676" opacity="1"><circle cx="697" cy="362" r="22.32"/><circle cx="716.27" cy="358.69" r="14.83"/><circle cx="704.33" cy="376.7" r="15.14"/><circle cx="689.47" cy="376.6" r="13.6"/><circle cx="678.55" cy="371.22" r="15.76"/><circle cx="677.54" cy="357.58" r="13.56"/><circle cx="698.08" cy="343.12" r="14.62"/><circle cx="709.02" cy="349.44" r="15.27"/></g><g fill="#747474" opacity="1"><circle cx="764" cy="386" r="22.94"/><circle cx="780.57" cy="381.38" r="13.73"/><circle cx="777.94" cy="401.75" r="14.06"/><circle cx="760.56" cy="407.16" r="14.75"/><circle cx="748.95" cy="393.68" r="12.27"/><circle cx="747.63" cy="375.75" r="14.37"/><circle cx="755.27" cy="370.25" r="16.26"/><circle cx="781.57" cy="372.02" r="12.88"/></g><g fill="#7a7a7a" opacity="1"><circle cx="818" cy="228" r="19.84"/><circle cx="832.39" cy="223.67" r="13.37"/><circle cx="828.67" cy="239.32" r="11.77"/><circle cx="816.08" cy="242.48" r="13.59"/><circle cx="805.88" cy="238.63" r="10.99"/><circle cx="801.04" cy="221.41" r="13.16"/><circle cx="818.07" cy="210.28" r="10.99"/><circle cx="826.3" cy="215.32" r="13.51"/></g><g fill="#7e7e7e" opacity="1"><circle cx="840" cy="372" r="13.64"/><circle cx="852.45" cy="373.93" r="7.92"/><circle cx="850.19" cy="379.37" r="9.43"/><circle cx="835.28" cy="382.61" r="7.11"/><circle cx="830.92" cy="379.13" r="7.82"/><circle cx="831.01" cy="367.08" r="7.94"/><circle cx="835.23" cy="360.31" r="8.09"/><circle cx="848.84" cy="363.8" r="9.73"/></g></g><rect x="658.2" y="218.6" width="188.8" height="189.6" fill="#3c3c3c" opacity="0.55" filter="url(#tex)"/><rect x="658.2" y="218.6" width="188.8" height="189.6" fill="#e8e8e8" opacity="0.5" filter="url(#texw)"/><g filter="url(#soft)"><circle cx="752.3" cy="255.7" r="14.2" fill="none" stroke="#c8c8c8" stroke-width="2.2" opacity="0.4"/><circle cx="752.3" cy="255.7" r="11.6" fill="#0a0a0a"/><circle cx="686.3" cy="289.1" r="13.1" fill="none" stroke="#c8c8c8" stroke-width="2.2" opacity="0.4"/><circle cx="686.3" cy="289.1" r="10.5" fill="#0a0a0a"/><circle cx="795.2" cy="315" r="14.6" fill="none" stroke="#c8c8c8" stroke-width="2.2" opacity="0.4"/><circle cx="795.2" cy="315" r="12" fill="#0a0a0a"/><circle cx="696.1" cy="357.9" r="12.4" fill="none" stroke="#c8c8c8" stroke-width="2.2" opacity="0.4"/><circle cx="696.1" cy="357.9" r="9.8" fill="#0a0a0a"/><circle cx="763.9" cy="382" r="14.1" fill="none" stroke="#c8c8c8" stroke-width="2.2" opacity="0.4"/><circle cx="763.9" cy="382" r="11.5" fill="#0a0a0a"/><circle cx="815.7" cy="224" r="12.6" fill="none" stroke="#c8c8c8" stroke-width="2.2" opacity="0.4"/><circle cx="815.7" cy="224" r="10" fill="#0a0a0a"/></g><rect x="672" y="385.5" width="30.3" height="10.8" fill="#fff"/></g>
<text transform="translate(662.61 250.65) scale(1.1041 1)" font-size="32.51" font-family="'Liberation Sans', Arial, sans-serif" font-weight="bold" fill="#000">(i)</text>
<rect x="659.5" y="219.9" width="186.2" height="187" fill="none" stroke="#1a1a1a" stroke-width="2.6"/>
<g clip-path="url(#ia2)"><rect x="858.2" y="218.6" width="188.8" height="189.6" fill="#b4b4b4"/><g filter="url(#rough)"><circle cx="1010" cy="250" r="26" fill="#c4c4c4"/><circle cx="885" cy="250" r="18" fill="#bfbfbf"/><circle cx="975" cy="330" r="12" fill="#c2c2c2"/></g><g filter="url(#rough)"><g fill="#7a7a7a" opacity="1"><circle cx="905" cy="302" r="23.56"/><circle cx="925.62" cy="307.42" r="12.97"/><circle cx="916.97" cy="322.03" r="13.58"/><circle cx="899.65" cy="320.88" r="15.13"/><circle cx="889.45" cy="312.58" r="15.98"/><circle cx="886.68" cy="294.25" r="16.03"/><circle cx="899.78" cy="284.03" r="12.39"/><circle cx="917.44" cy="284.8" r="16.71"/></g><g fill="#828282" opacity="1"><circle cx="958" cy="250" r="19.84"/><circle cx="975.91" cy="245.36" r="12.27"/><circle cx="970.06" cy="264.48" r="13.83"/><circle cx="958.58" cy="267.09" r="13.12"/><circle cx="945.51" cy="259.78" r="14.03"/><circle cx="943.97" cy="243.84" r="12.54"/><circle cx="950.91" cy="232.29" r="12.03"/><circle cx="973.31" cy="238.22" r="11.46"/></g><g fill="#707070" opacity="1"><circle cx="1005" cy="300" r="22.32"/><circle cx="1026.38" cy="304.48" r="15.71"/><circle cx="1018.61" cy="314.56" r="12.49"/><circle cx="1005.45" cy="320.54" r="11.58"/><circle cx="990.47" cy="307.73" r="11.84"/><circle cx="990.23" cy="289.28" r="13.48"/><circle cx="1002.87" cy="278.23" r="15.79"/><circle cx="1019.6" cy="284.39" r="14.49"/></g><g fill="#666666" opacity="1"><circle cx="1022" cy="354" r="23.56"/><circle cx="1040.44" cy="358.2" r="12.32"/><circle cx="1035.75" cy="372.22" r="16.43"/><circle cx="1023.38" cy="376.01" r="15.66"/><circle cx="1006.46" cy="365.02" r="14.9"/><circle cx="1002.84" cy="345.38" r="12.56"/><circle cx="1015.92" cy="332.25" r="12.43"/><circle cx="1032.96" cy="335.06" r="13.15"/></g><g fill="#747474" opacity="1"><circle cx="960" cy="364" r="21.08"/><circle cx="978.83" cy="366.54" r="13.86"/><circle cx="969.95" cy="375.86" r="11.47"/><circle cx="959.46" cy="380.01" r="12.85"/><circle cx="946.65" cy="373.96" r="10.99"/><circle cx="944.02" cy="357.87" r="13.78"/><circle cx="952.49" cy="347.29" r="12.94"/><circle cx="967.6" cy="347.08" r="14.57"/></g><g fill="#7e7e7e" opacity="1"><circle cx="898" cy="387" r="17.36"/><circle cx="913.43" cy="389.48" r="11.1"/><circle cx="907.4" cy="396.33" r="12.41"/><circle cx="897.88" cy="403.4" r="12.05"/><circle cx="884.33" cy="392" r="11.62"/><circle cx="885.49" cy="383.03" r="12.12"/><circle cx="895.79" cy="373.3" r="9.81"/><circle cx="905.54" cy="371.5" r="11.54"/></g><g fill="#6c6c6c" opacity="1"><circle cx="1000" cy="400" r="17.36"/><circle cx="1014.45" cy="398.02" r="10.33"/><circle cx="1006.03" cy="414.03" r="11.01"/><circle cx="995.26" cy="413.05" r="12.21"/><circle cx="984.43" cy="404.66" r="9.82"/><circle cx="986.31" cy="391.56" r="9.52"/><circle cx="995.88" cy="386.42" r="11.7"/><circle cx="1006.96" cy="386.45" r="11.64"/></g><g fill="#7e7e7e" opacity="1"><circle cx="945" cy="302" r="13.64"/><circle cx="957.25" cy="304.67" r="9.33"/><circle cx="952.67" cy="310.61" r="7.71"/><circle cx="940.14" cy="313.74" r="8.88"/><circle cx="936.95" cy="308.81" r="9.85"/><circle cx="936.43" cy="296.28" r="8.84"/><circle cx="942.87" cy="289.73" r="7.48"/><circle cx="952.81" cy="290.85" r="7.97"/></g><g fill="#888888" opacity="1"><circle cx="885" cy="240" r="11.16"/><circle cx="894.07" cy="238.97" r="6.59"/><circle cx="889.07" cy="247.03" r="7.75"/><circle cx="884.97" cy="250.36" r="6.26"/><circle cx="874.29" cy="242.26" r="6.28"/><circle cx="876.79" cy="236.48" r="6.64"/><circle cx="880.5" cy="230.81" r="5.84"/><circle cx="892.62" cy="234.51" r="6.52"/></g></g><rect x="858.2" y="218.6" width="188.8" height="189.6" fill="#3c3c3c" opacity="0.55" filter="url(#tex)"/><rect x="858.2" y="218.6" width="188.8" height="189.6" fill="#e8e8e8" opacity="0.5" filter="url(#texw)"/><g filter="url(#soft)"></g><rect x="869.3" y="385.5" width="30.3" height="10.8" fill="#fff"/></g>
<text transform="translate(864.46 250.65) scale(1.0747 1)" font-size="32.51" font-family="'Liberation Sans', Arial, sans-serif" font-weight="bold" fill="#000">(ii)</text>
<rect x="859.5" y="219.9" width="186.2" height="187" fill="none" stroke="#1a1a1a" stroke-width="2.6"/>
<g clip-path="url(#ib1)"><rect x="1774.5" y="219.5" width="187.5" height="188" fill="#7e7e7e"/><g filter="url(#rough)"><circle cx="1898" cy="300" r="22" fill="#bcbcbc"/><circle cx="1795" cy="335" r="20" fill="#b0b0b0"/><circle cx="1835" cy="230" r="14" fill="#a8a8a8"/><circle cx="1952" cy="398" r="12" fill="#b0b0b0"/><circle cx="1905" cy="385" r="10" fill="#aaaaaa"/></g><g filter="url(#rough)"><g fill="#545454" opacity="1"><circle cx="1873" cy="250" r="22.32"/><circle cx="1892.14" cy="249.42" r="15.72"/><circle cx="1880.58" cy="265.79" r="12.71"/><circle cx="1862.74" cy="268.16" r="15.14"/><circle cx="1856.95" cy="263.45" r="13.76"/><circle cx="1857" cy="235.57" r="13.98"/><circle cx="1870.92" cy="231.22" r="15.34"/><circle cx="1883.87" cy="237.6" r="12.04"/></g><g fill="#525252" opacity="1"><circle cx="1940" cy="262" r="22.32"/><circle cx="1957.91" cy="261.8" r="11.73"/><circle cx="1956.63" cy="275.96" r="15.96"/><circle cx="1931.19" cy="280.61" r="12.06"/><circle cx="1919.28" cy="267.86" r="11.97"/><circle cx="1923.89" cy="251.28" r="12.34"/><circle cx="1931.31" cy="241.77" r="16.04"/><circle cx="1955.87" cy="246.55" r="14.47"/></g><g fill="#505050" opacity="1"><circle cx="1816" cy="286" r="22.32"/><circle cx="1835.51" cy="280.75" r="15.84"/><circle cx="1829.34" cy="297.87" r="11.82"/><circle cx="1813.67" cy="306.24" r="14.26"/><circle cx="1798.58" cy="298.99" r="15.26"/><circle cx="1797.61" cy="278.18" r="15.88"/><circle cx="1809.46" cy="266.44" r="12.8"/><circle cx="1831.56" cy="272.31" r="14.98"/></g><g fill="#575757" opacity="1"><circle cx="1860" cy="330" r="19.84"/><circle cx="1878.82" cy="332.07" r="12.02"/><circle cx="1870.58" cy="340.06" r="10.75"/><circle cx="1856.18" cy="344.4" r="13.89"/><circle cx="1845.75" cy="340.19" r="10.31"/><circle cx="1844.93" cy="321.44" r="13.78"/><circle cx="1859.39" cy="313.4" r="13.17"/><circle cx="1871.65" cy="315.64" r="11.71"/></g><g fill="#545454" opacity="1"><circle cx="1924" cy="357" r="21.08"/><circle cx="1944.2" cy="353.95" r="14.15"/><circle cx="1939.39" cy="370.68" r="12.54"/><circle cx="1923.6" cy="375.02" r="12.17"/><circle cx="1908.93" cy="367.32" r="11.25"/><circle cx="1908.45" cy="354.03" r="13.88"/><circle cx="1919.39" cy="338.1" r="13.33"/><circle cx="1930.65" cy="342.97" r="11.58"/></g><g fill="#525252" opacity="1"><circle cx="1806" cy="372" r="19.84"/><circle cx="1823.15" cy="376.63" r="12.89"/><circle cx="1813.37" cy="390.41" r="10.57"/><circle cx="1799.06" cy="385.57" r="12.68"/><circle cx="1788.75" cy="379.32" r="11.37"/><circle cx="1790.86" cy="365.23" r="14.05"/><circle cx="1796.85" cy="355.65" r="13.41"/><circle cx="1814.46" cy="359.29" r="11.31"/></g><g fill="#555555" opacity="1"><circle cx="1865" cy="392" r="18.6"/><circle cx="1879.58" cy="394.88" r="10.11"/><circle cx="1877.16" cy="401.32" r="11.02"/><circle cx="1861.97" cy="409.65" r="11.85"/><circle cx="1852.67" cy="402.61" r="9.94"/><circle cx="1848.86" cy="383.62" r="9.61"/><circle cx="1864.03" cy="373.76" r="12.44"/><circle cx="1871.07" cy="376.77" r="12.33"/></g><g fill="#5a5a5a" opacity="1"><circle cx="1950" cy="320" r="13.64"/><circle cx="1960.88" cy="318.74" r="9.54"/><circle cx="1956.58" cy="330.93" r="9.8"/><circle cx="1947.76" cy="331.56" r="8.44"/><circle cx="1940.68" cy="327.04" r="7.72"/><circle cx="1938.47" cy="314.74" r="7.98"/><circle cx="1948.18" cy="309.82" r="8.14"/><circle cx="1960.52" cy="312.8" r="7.09"/></g><g fill="#5a5a5a" opacity="1"><circle cx="1790" cy="235" r="12.4"/><circle cx="1801.87" cy="235.01" r="8.43"/><circle cx="1795.53" cy="242.16" r="8.29"/><circle cx="1790.61" cy="246.22" r="8.85"/><circle cx="1781.2" cy="238.4" r="7.96"/><circle cx="1781.01" cy="228.98" r="8.9"/><circle cx="1790.07" cy="222.82" r="6.76"/><circle cx="1793.55" cy="226.2" r="8.34"/></g></g><rect x="1774.5" y="219.5" width="187.5" height="188" fill="#3c3c3c" opacity="0.55" filter="url(#tex)"/><rect x="1774.5" y="219.5" width="187.5" height="188" fill="#e8e8e8" opacity="0.5" filter="url(#texw)"/><g filter="url(#soft)"><circle cx="1872.7" cy="248" r="14.6" fill="none" stroke="#c8c8c8" stroke-width="2.2" opacity="0.4"/><circle cx="1872.7" cy="248" r="12" fill="#0a0a0a"/><circle cx="1939.6" cy="260.5" r="15.1" fill="none" stroke="#c8c8c8" stroke-width="2.2" opacity="0.4"/><circle cx="1939.6" cy="260.5" r="12.5" fill="#0a0a0a"/><circle cx="1816.1" cy="284.6" r="14.1" fill="none" stroke="#c8c8c8" stroke-width="2.2" opacity="0.4"/><circle cx="1816.1" cy="284.6" r="11.5" fill="#0a0a0a"/><circle cx="1860.2" cy="329.3" r="11.6" fill="none" stroke="#c8c8c8" stroke-width="2.2" opacity="0.4"/><circle cx="1860.2" cy="329.3" r="9" fill="#0a0a0a"/><circle cx="1923.6" cy="356.1" r="13.1" fill="none" stroke="#c8c8c8" stroke-width="2.2" opacity="0.4"/><circle cx="1923.6" cy="356.1" r="10.5" fill="#0a0a0a"/><circle cx="1806.6" cy="371.3" r="12.6" fill="none" stroke="#c8c8c8" stroke-width="2.2" opacity="0.4"/><circle cx="1806.6" cy="371.3" r="10" fill="#0a0a0a"/><circle cx="1864.6" cy="391.8" r="12.6" fill="none" stroke="#c8c8c8" stroke-width="2.2" opacity="0.4"/><circle cx="1864.6" cy="391.8" r="10" fill="#0a0a0a"/></g><rect x="1789.6" y="385.5" width="30.4" height="9" fill="#fff"/></g>
<text transform="translate(1780.42 250.65) scale(1.0349 1)" font-size="32.51" font-family="'Liberation Sans', Arial, sans-serif" font-weight="bold" fill="#000">(i)</text>
<rect x="1775.8" y="220.8" width="184.9" height="185.4" fill="none" stroke="#1a1a1a" stroke-width="2.6"/>
<g clip-path="url(#ib2)"><rect x="1971.8" y="219.5" width="188.4" height="188" fill="#a4a4a4"/><g filter="url(#rough)"><circle cx="2000" cy="250" r="30" fill="#b4b4b4"/><circle cx="2140" cy="340" r="16" fill="#b8b8b8"/></g><g filter="url(#rough)"><g fill="#5a5a5a" opacity="1"><circle cx="2047" cy="298" r="18.6"/><circle cx="2061.55" cy="298.58" r="12.88"/><circle cx="2057.53" cy="312.43" r="10.17"/><circle cx="2039.67" cy="311.64" r="13.05"/><circle cx="2035.29" cy="307.06" r="13.04"/><circle cx="2033.04" cy="286.19" r="12.58"/><circle cx="2047.5" cy="284.42" r="11.98"/><circle cx="2058.26" cy="286.7" r="10.86"/></g><g fill="#565656" opacity="1"><circle cx="2118" cy="282" r="22.32"/><circle cx="2139.01" cy="285.29" r="16.08"/><circle cx="2133.15" cy="293.04" r="12.59"/><circle cx="2115.57" cy="302.27" r="15.01"/><circle cx="2102.13" cy="289.51" r="14.55"/><circle cx="2101.83" cy="274.89" r="15.77"/><circle cx="2118.73" cy="265.19" r="12.12"/><circle cx="2132.32" cy="267.39" r="12.98"/></g><g fill="#5a5a5a" opacity="1"><circle cx="2018" cy="358" r="22.32"/><circle cx="2037.38" cy="357.22" r="13.6"/><circle cx="2028.86" cy="370.49" r="12.79"/><circle cx="2014.66" cy="375.47" r="12.25"/><circle cx="2002.42" cy="366.55" r="11.85"/><circle cx="2001.3" cy="345.95" r="16.04"/><circle cx="2013.81" cy="338.35" r="15.61"/><circle cx="2030.68" cy="346.69" r="11.68"/></g><g fill="#585858" opacity="1"><circle cx="2090" cy="352" r="21.08"/><circle cx="2110.22" cy="354.62" r="14.26"/><circle cx="2099.8" cy="363.9" r="11.27"/><circle cx="2086.11" cy="367.29" r="13.17"/><circle cx="2069.65" cy="355.42" r="13.93"/><circle cx="2072.52" cy="347.02" r="12.1"/><circle cx="2082.86" cy="333.93" r="12.94"/><circle cx="2099.92" cy="335.75" r="14.52"/></g><g fill="#5e5e5e" opacity="1"><circle cx="2142" cy="398" r="16.12"/><circle cx="2156.35" cy="399.63" r="11.23"/><circle cx="2152.04" cy="406.34" r="10.19"/><circle cx="2141.71" cy="410.56" r="10.81"/><circle cx="2128.1" cy="405.11" r="11.09"/><circle cx="2129.04" cy="393.03" r="8.76"/><circle cx="2136.63" cy="385.44" r="9.66"/><circle cx="2153.64" cy="389.84" r="8.64"/></g><g fill="#606060" opacity="1"><circle cx="2062" cy="402" r="14.88"/><circle cx="2075.39" cy="404.47" r="9.28"/><circle cx="2070.41" cy="413.1" r="8.66"/><circle cx="2059.92" cy="413.88" r="10.04"/><circle cx="2050.06" cy="408.58" r="8.86"/><circle cx="2051.39" cy="397.42" r="9.54"/><circle cx="2055.2" cy="388.95" r="8.42"/><circle cx="2071.65" cy="392.47" r="8.77"/></g></g><rect x="1971.8" y="219.5" width="188.4" height="188" fill="#3c3c3c" opacity="0.55" filter="url(#tex)"/><rect x="1971.8" y="219.5" width="188.4" height="188" fill="#e8e8e8" opacity="0.5" filter="url(#texw)"/><g filter="url(#soft)"></g><rect x="1986" y="385.5" width="30.4" height="9" fill="#fff"/></g>
<text transform="translate(1979.42 250.65) scale(1.0994 1)" font-size="32.51" font-family="'Liberation Sans', Arial, sans-serif" font-weight="bold" fill="#000">(ii)</text>
<rect x="1973.1" y="220.8" width="185.8" height="185.4" fill="none" stroke="#1a1a1a" stroke-width="2.6"/>
<circle cx="1650.3" cy="1221" r="147.5" fill="url(#gCdS)"/>
<circle cx="1650.7" cy="1222.4" r="88" fill="url(#gAu)"/>
<path d="M1707.6 1139.8L1725.3 1092.6L1730.6 1097.9L1742.6 1069.3L1748.5 1075.9L1761.5 1046L1781.5 1074.6L1761.9 1095.9L1757.2 1090.6L1741.2 1113.9L1736.6 1108.5z" fill="#ff80fb" stroke="#000" stroke-width="2.4" stroke-linejoin="miter" stroke-miterlimit="8"/>
<text transform="translate(1784.94 1084.2) scale(1.0210 1)" font-size="34" font-family="'Liberation Serif', 'Times New Roman', serif" font-weight="bold" fill="#000">hv</text>
<path d="M1529.1 1159.8 C1511.3 1144.3 1486.1 1145.8 1477.2 1156.1 C1459.5 1165 1448.3 1188.7 1454.3 1215.4 L1445.4 1223.6 L1474.3 1231.7 L1484.7 1201.3 L1477.2 1208 C1471.3 1188.7 1472.8 1168 1478.7 1158.4 C1489.1 1154.7 1506.9 1158.1 1517.3 1172.4 Z" fill="url(#gOr)" stroke="#000" stroke-width="1.8" stroke-linejoin="round"/>
<circle cx="1539.9" cy="1185" r="22" fill="#fac39b" stroke="#000" stroke-width="2.8"/>
<text transform="translate(1521.53 1200) scale(1.2815 1)" font-size="35.7" font-family="'Liberation Sans', Arial, sans-serif" fill="#000" stroke="#000" stroke-width="1.1">h</text>
<text transform="translate(1546.48 1182.6) scale(1.4064 1)" font-size="19" font-family="'Liberation Sans', Arial, sans-serif" font-weight="bold" fill="#000">+</text>
<circle cx="1536.5" cy="1241" r="22" fill="#fac39b" stroke="#000" stroke-width="2.8"/>
<text transform="translate(1518.13 1256) scale(1.2815 1)" font-size="35.7" font-family="'Liberation Sans', Arial, sans-serif" fill="#000" stroke="#000" stroke-width="1.1">h</text>
<text transform="translate(1543.08 1238.6) scale(1.4064 1)" font-size="19" font-family="'Liberation Sans', Arial, sans-serif" font-weight="bold" fill="#000">+</text>
<circle cx="1557.7" cy="1292.9" r="22" fill="#fac39b" stroke="#000" stroke-width="2.8"/>
<text transform="translate(1539.33 1307.9) scale(1.2815 1)" font-size="35.7" font-family="'Liberation Sans', Arial, sans-serif" fill="#000" stroke="#000" stroke-width="1.1">h</text>
<text transform="translate(1564.28 1290.5) scale(1.4064 1)" font-size="19" font-family="'Liberation Sans', Arial, sans-serif" font-weight="bold" fill="#000">+</text>
<path d="M1745.8 1298.4 C1729.9 1317 1705.9 1321 1689.9 1311.7 C1678 1303.7 1672.6 1286.4 1676 1267.8" fill="none" stroke="#000" stroke-width="15.5" stroke-linecap="butt"/>
<path d="M1684.9 1251.6 L1659.8 1258.2 L1696.5 1278.4 Z" fill="#7fe2fa" stroke="#000" stroke-width="2" stroke-linejoin="miter"/>
<path d="M1745.8 1298.4 C1729.9 1317 1705.9 1321 1689.9 1311.7" fill="none" stroke="#3ec4ef" stroke-width="11"/>
<path d="M1691.5 1312.6 C1678 1303.7 1672.6 1286.4 1676.6 1266.2" fill="none" stroke="#80e3fa" stroke-width="11"/>
<circle cx="1761.9" cy="1176.3" r="21" fill="#5fd6f6" stroke="#000" stroke-width="2.8"/>
<text transform="translate(1748.82 1188.8) scale(1.0570 1)" font-size="37.5" font-family="'Liberation Sans', Arial, sans-serif" fill="#000" stroke="#000" stroke-width="1.1">e</text>
<rect x="1767.1" y="1164.8" width="9.2" height="3.6" fill="#000"/>
<circle cx="1766.5" cy="1228.2" r="21" fill="#5fd6f6" stroke="#000" stroke-width="2.8"/>
<text transform="translate(1753.42 1240.7) scale(1.0570 1)" font-size="37.5" font-family="'Liberation Sans', Arial, sans-serif" fill="#000" stroke="#000" stroke-width="1.1">e</text>
<rect x="1771.7" y="1216.7" width="9.2" height="3.6" fill="#000"/>
<circle cx="1754.7" cy="1276.4" r="21" fill="#5fd6f6" stroke="#000" stroke-width="2.8"/>
<text transform="translate(1741.62 1288.9) scale(1.0570 1)" font-size="37.5" font-family="'Liberation Sans', Arial, sans-serif" fill="#000" stroke="#000" stroke-width="1.1">e</text>
<rect x="1759.9" y="1264.9" width="9.2" height="3.6" fill="#000"/>
<text transform="translate(1604.55 1118) scale(1.1202 1)" font-size="39.5" font-family="'Liberation Sans', Arial, sans-serif" fill="#000" stroke="#000" stroke-width="1.1">CdS</text>
<text transform="translate(1624.11 1235) scale(1.0819 1)" font-size="42.5" font-family="'Liberation Sans', Arial, sans-serif" fill="#fff" stroke="#fff" stroke-width="0.9">Au</text>
<text transform="translate(1420.97 1263.8) scale(1.0658 1)" font-size="37" font-family="'Liberation Sans', Arial, sans-serif" fill="#000" stroke="#000" stroke-width="1.1">RhB</text>
<text transform="translate(1423.53 1135.6) scale(0.8815 1)" font-size="51" font-family="'Liberation Sans', Arial, sans-serif" font-weight="bold" font-style="italic" fill="#000">k</text>
<text transform="translate(1448.18 1140.8) scale(1.1646 1)" font-size="29.5" font-family="'Liberation Sans', Arial, sans-serif" fill="#000" stroke="#000" stroke-width="1.1">RhB</text>
<text transform="translate(1658.89 1341.8) scale(0.8890 1)" font-size="46.5" font-family="'Liberation Sans', Arial, sans-serif" font-weight="bold" font-style="italic" fill="#000">k</text>
<text transform="translate(1682.47 1347.2) scale(1.2233 1)" font-size="29.5" font-family="'Liberation Sans', Arial, sans-serif" fill="#000" stroke="#000" stroke-width="1.1">et</text>
<text transform="translate(1230.7 1443.6) rotate(-90) scale(0.9368 1)" font-size="56.44" font-family="'Liberation Sans', Arial, sans-serif" font-weight="bold" font-style="italic" fill="#000">k</text>
<text transform="translate(1251.1 1414.22) rotate(-90) scale(0.9859 1)" font-size="33.67" font-family="'Liberation Sans', Arial, sans-serif" font-weight="bold" fill="#000">RhB</text>
<text transform="translate(1230 1329.24) rotate(-90) scale(0.8051 1)" font-size="55.89" font-family="'Liberation Sans', Arial, sans-serif" font-weight="bold" fill="#000">(</text>
<text transform="translate(1230.1 1312) rotate(-90) scale(1.0431 1)" font-size="55.2" font-family="'Liberation Sans', Arial, sans-serif" font-weight="bold" fill="#000">min</text>
<text transform="translate(1199.6 1209.29) rotate(-90) scale(1.4682 1)" font-size="26.02" font-family="'Liberation Sans', Arial, sans-serif" font-weight="bold" fill="#000">-</text>
<text transform="translate(1200.4 1196.49) rotate(-90) scale(0.6798 1)" font-size="32.56" font-family="'Liberation Sans', Arial, sans-serif" font-weight="bold" fill="#000">1</text>
<text transform="translate(1230.13 1177.54) rotate(-90) scale(0.7760 1)" font-size="55.25" font-family="'Liberation Sans', Arial, sans-serif" font-weight="bold" fill="#000">)</text>
<text transform="translate(2361.1 1449.53) rotate(-90) scale(0.9420 1)" font-size="57.96" font-family="'Liberation Sans', Arial, sans-serif" font-weight="bold" font-style="italic" fill="#ff0014">k</text>
<text transform="translate(2380.43 1416.89) rotate(-90) scale(1.0994 1)" font-size="27.79" font-family="'Liberation Sans', Arial, sans-serif" font-weight="bold" fill="#ff0014">et</text>
<text transform="translate(2359.53 1373.91) rotate(-90) scale(0.8799 1)" font-size="57.18" font-family="'Liberation Sans', Arial, sans-serif" font-weight="bold" fill="#ff0014">(</text>
<text transform="translate(2361.1 1354.37) rotate(-90) scale(0.9430 1)" font-size="58.11" font-family="'Liberation Sans', Arial, sans-serif" font-weight="bold" fill="#ff0014">x</text>
<text transform="translate(2360.53 1305.64) rotate(-90) scale(0.8597 1)" font-size="57.91" font-family="'Liberation Sans', Arial, sans-serif" font-weight="bold" fill="#ff0014">10</text>
<text transform="translate(2330.96 1249.24) rotate(-90) scale(1.0321 1)" font-size="34.6" font-family="'Liberation Sans', Arial, sans-serif" font-weight="bold" fill="#ff0014">9</text>
<text transform="translate(2360.55 1210.85) rotate(-90) scale(0.9899 1)" font-size="55.99" font-family="'Liberation Sans', Arial, sans-serif" font-weight="bold" fill="#ff0014">s</text>
<text transform="translate(2331.64 1179.08) rotate(-90) scale(0.8422 1)" font-size="32.73" font-family="'Liberation Sans', Arial, sans-serif" font-weight="bold" fill="#ff0014">-</text>
<text transform="translate(2331.3 1168.49) rotate(-90) scale(0.8305 1)" font-size="34.16" font-family="'Liberation Sans', Arial, sans-serif" font-weight="bold" fill="#ff0014">1</text>
<text transform="translate(2359.53 1146.14) rotate(-90) scale(0.7498 1)" font-size="57.18" font-family="'Liberation Sans', Arial, sans-serif" font-weight="bold" fill="#ff0014">)</text>
</g></svg></div></body></html>
